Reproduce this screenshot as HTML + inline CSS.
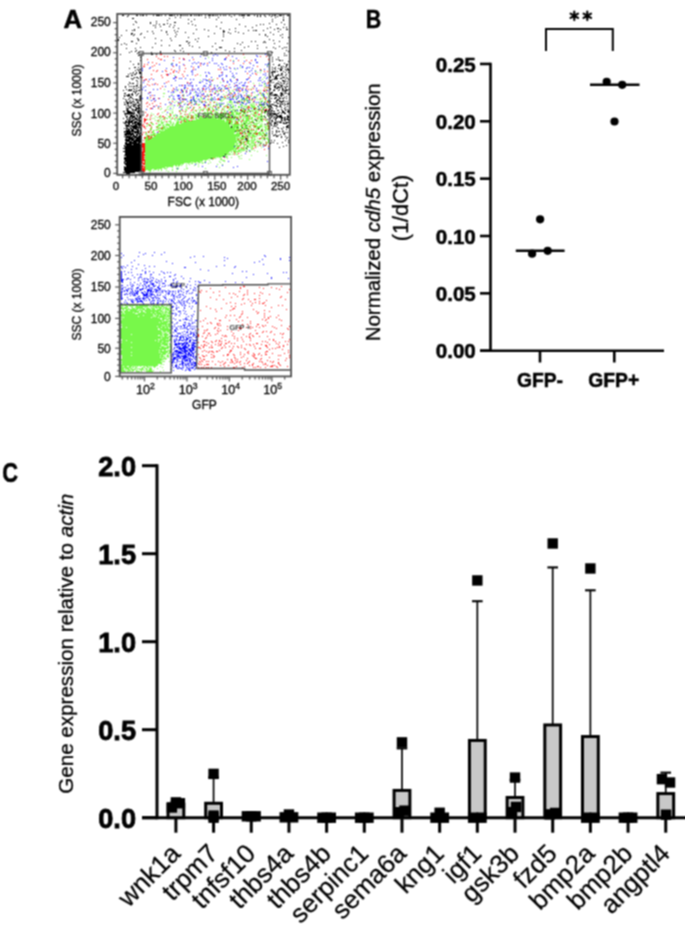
<!DOCTYPE html>
<html><head><meta charset="utf-8"><style>
html,body{margin:0;padding:0;background:#fff;}
body{width:685px;height:929px;overflow:hidden;}
svg{display:block;font-family:"Liberation Sans",sans-serif;}
</style></head><body>
<svg width="685" height="929" viewBox="0 0 685 929"><defs><filter id="soft" x="0" y="0" width="685" height="929" filterUnits="userSpaceOnUse" color-interpolation-filters="sRGB"><feConvolveMatrix order="3" kernelMatrix="1 2 1 2 4 2 1 2 1" divisor="16" edgeMode="duplicate"/></filter></defs>
<g filter="url(#soft)">
<rect x="0" y="0" width="685" height="929" fill="#fff"/>
<text x="63.6" y="27.6" font-size="26" font-weight="bold" text-anchor="start" fill="#000" textLength="18.6" lengthAdjust="spacingAndGlyphs" stroke="#000" stroke-width="0.5">A</text>
<g>
<path d="M208 57.5h1M244 57.5h1M233 60.5h1M171 63.5h1M268 64.5h1M267 65.5h1M240 67.5h1M235 69.5h1M255 70.5h1M261 70.5h1M257 72.5h1M260 72.5h1M174 75.5h1M200 75.5h1M233 77.5h1M264 77.5h1M213 79.5h1M262 79.5h1M200 80.5h1M208 80.5h1M220 82.5h1M253 83.5h1M259 83.5h1M264 83.5h1M211 84.5h1M264 84.5h1M217 86.5h1M228 86.5h1M264 86.5h2M243 87.5h1M252 87.5h1M267 87.5h1M224 88.5h1M236 88.5h1M164 89.5h1M178 89.5h1M184 89.5h1M221 89.5h1M250 89.5h1M266 89.5h1M218 90.5h2M229 90.5h1M232 90.5h1M260 90.5h1M265 90.5h1M175 91.5h1M183 91.5h1M202 91.5h1M209 91.5h1M215 91.5h1M233 91.5h1M237 91.5h1M245 91.5h1M194 92.5h1M215 92.5h1M226 92.5h1M230 92.5h1M243 92.5h1M254 92.5h1M259 92.5h2M163 93.5h2M218 93.5h1M230 93.5h1M263 93.5h1M267 93.5h1M172 94.5h1M183 94.5h1M207 94.5h1M223 94.5h1M261 94.5h1M264 94.5h1M267 94.5h1M195 95.5h1M209 95.5h1M225 95.5h1M233 95.5h1M240 95.5h1M247 95.5h3M256 95.5h2M261 95.5h2M163 96.5h1M183 96.5h1M206 96.5h1M227 96.5h1M238 96.5h1M250 96.5h1M254 96.5h1M263 96.5h1M268 96.5h1M169 97.5h1M190 97.5h1M201 97.5h1M211 97.5h1M221 97.5h1M223 97.5h1M228 97.5h1M232 97.5h2M235 97.5h1M247 97.5h1M253 97.5h1M256 97.5h1M263 97.5h1M184 98.5h1M196 98.5h1M201 98.5h1M211 98.5h1M224 98.5h2M236 98.5h1M242 98.5h1M244 98.5h1M246 98.5h2M262 98.5h1M264 98.5h1M267 98.5h1M149 99.5h1M172 99.5h1M194 99.5h1M199 99.5h1M202 99.5h1M207 99.5h1M211 99.5h1M221 99.5h1M223 99.5h1M241 99.5h1M245 99.5h2M251 99.5h1M256 99.5h1M258 99.5h1M260 99.5h1M193 100.5h1M200 100.5h1M205 100.5h1M212 100.5h1M220 100.5h1M222 100.5h1M230 100.5h1M239 100.5h1M241 100.5h1M243 100.5h2M246 100.5h1M248 100.5h1M251 100.5h1M260 100.5h1M262 100.5h1M265 100.5h1M267 100.5h1M176 101.5h1M183 101.5h1M189 101.5h1M191 101.5h1M195 101.5h1M201 101.5h1M209 101.5h1M214 101.5h1M221 101.5h1M229 101.5h3M237 101.5h1M241 101.5h1M247 101.5h1M261 101.5h2M265 101.5h1M268 101.5h1M170 102.5h1M174 102.5h1M181 102.5h1M195 102.5h1M202 102.5h1M206 102.5h1M213 102.5h1M216 102.5h1M227 102.5h1M229 102.5h2M232 102.5h1M235 102.5h1M243 102.5h1M247 102.5h1M250 102.5h1M253 102.5h1M259 102.5h2M265 102.5h1M268 102.5h1M179 103.5h2M185 103.5h1M191 103.5h1M196 103.5h1M217 103.5h1M231 103.5h1M237 103.5h2M242 103.5h1M252 103.5h1M254 103.5h1M193 104.5h1M198 104.5h2M209 104.5h2M218 104.5h1M220 104.5h3M227 104.5h1M230 104.5h1M232 104.5h1M241 104.5h1M250 104.5h2M253 104.5h1M260 104.5h1M263 104.5h1M266 104.5h1M172 105.5h1M177 105.5h2M187 105.5h1M198 105.5h1M206 105.5h1M213 105.5h2M216 105.5h2M219 105.5h1M226 105.5h1M233 105.5h1M241 105.5h2M246 105.5h1M249 105.5h1M251 105.5h2M254 105.5h1M259 105.5h3M268 105.5h1M168 106.5h1M170 106.5h1M206 106.5h1M210 106.5h1M225 106.5h2M228 106.5h1M230 106.5h1M232 106.5h2M238 106.5h2M241 106.5h1M243 106.5h3M247 106.5h1M251 106.5h4M257 106.5h1M261 106.5h2M265 106.5h1M158 107.5h1M167 107.5h1M173 107.5h1M181 107.5h1M186 107.5h2M189 107.5h1M194 107.5h1M200 107.5h1M208 107.5h1M210 107.5h1M212 107.5h1M217 107.5h1M219 107.5h1M223 107.5h1M230 107.5h1M232 107.5h2M235 107.5h1M238 107.5h2M246 107.5h2M250 107.5h1M252 107.5h4M258 107.5h1M263 107.5h1M265 107.5h1M268 107.5h1M161 108.5h1M182 108.5h1M193 108.5h1M203 108.5h2M209 108.5h1M212 108.5h1M216 108.5h1M218 108.5h1M222 108.5h1M224 108.5h1M227 108.5h1M229 108.5h1M241 108.5h1M245 108.5h1M253 108.5h1M256 108.5h1M262 108.5h2M266 108.5h1M160 109.5h1M166 109.5h1M168 109.5h1M172 109.5h1M185 109.5h2M193 109.5h1M198 109.5h1M200 109.5h2M203 109.5h1M206 109.5h3M212 109.5h2M215 109.5h1M217 109.5h1M223 109.5h1M229 109.5h2M232 109.5h3M236 109.5h2M240 109.5h1M243 109.5h2M249 109.5h1M253 109.5h1M257 109.5h1M259 109.5h3M170 110.5h1M179 110.5h2M186 110.5h1M196 110.5h1M200 110.5h1M203 110.5h1M207 110.5h1M210 110.5h1M214 110.5h1M218 110.5h1M221 110.5h1M224 110.5h1M228 110.5h1M231 110.5h1M233 110.5h1M242 110.5h3M247 110.5h1M249 110.5h1M251 110.5h2M255 110.5h2M262 110.5h1M164 111.5h1M172 111.5h1M180 111.5h1M183 111.5h1M193 111.5h1M196 111.5h1M199 111.5h1M207 111.5h1M210 111.5h2M215 111.5h2M221 111.5h1M224 111.5h1M226 111.5h1M230 111.5h1M232 111.5h1M234 111.5h2M237 111.5h1M241 111.5h1M243 111.5h1M245 111.5h1M247 111.5h3M252 111.5h2M255 111.5h1M257 111.5h2M261 111.5h2M264 111.5h1M266 111.5h1M162 112.5h1M172 112.5h1M185 112.5h1M190 112.5h1M192 112.5h2M199 112.5h1M204 112.5h2M207 112.5h2M210 112.5h2M214 112.5h1M216 112.5h2M223 112.5h1M225 112.5h1M231 112.5h3M235 112.5h3M239 112.5h3M243 112.5h1M246 112.5h1M254 112.5h1M256 112.5h2M261 112.5h1M265 112.5h1M151 113.5h1M169 113.5h2M172 113.5h1M181 113.5h1M189 113.5h1M194 113.5h1M197 113.5h1M202 113.5h3M206 113.5h2M209 113.5h1M211 113.5h2M215 113.5h1M218 113.5h1M220 113.5h2M224 113.5h1M226 113.5h3M231 113.5h3M236 113.5h4M243 113.5h3M251 113.5h1M253 113.5h2M257 113.5h1M261 113.5h1M265 113.5h1M153 114.5h1M166 114.5h1M175 114.5h1M184 114.5h1M189 114.5h1M195 114.5h2M205 114.5h1M207 114.5h2M213 114.5h2M216 114.5h2M219 114.5h5M225 114.5h1M227 114.5h2M230 114.5h4M235 114.5h5M242 114.5h2M245 114.5h1M247 114.5h1M250 114.5h1M252 114.5h1M254 114.5h1M256 114.5h1M260 114.5h2M150 115.5h1M160 115.5h1M173 115.5h2M177 115.5h1M180 115.5h1M188 115.5h1M190 115.5h1M193 115.5h1M195 115.5h3M199 115.5h1M203 115.5h4M208 115.5h3M212 115.5h2M215 115.5h1M217 115.5h7M225 115.5h1M227 115.5h4M232 115.5h3M239 115.5h1M241 115.5h2M245 115.5h1M248 115.5h2M254 115.5h3M261 115.5h1M264 115.5h1M155 116.5h1M160 116.5h1M168 116.5h3M174 116.5h1M177 116.5h1M180 116.5h2M185 116.5h3M191 116.5h1M193 116.5h1M196 116.5h3M200 116.5h3M206 116.5h1M208 116.5h3M212 116.5h4M218 116.5h7M227 116.5h1M229 116.5h2M234 116.5h3M238 116.5h1M242 116.5h1M244 116.5h5M250 116.5h1M254 116.5h2M257 116.5h4M262 116.5h2M268 116.5h1M157 117.5h1M159 117.5h1M161 117.5h1M165 117.5h1M169 117.5h1M172 117.5h1M179 117.5h3M183 117.5h2M188 117.5h1M190 117.5h1M192 117.5h2M195 117.5h2M198 117.5h4M204 117.5h4M210 117.5h1M212 117.5h2M215 117.5h7M223 117.5h1M225 117.5h1M227 117.5h1M230 117.5h1M233 117.5h1M235 117.5h1M237 117.5h2M242 117.5h1M244 117.5h1M246 117.5h3M251 117.5h2M255 117.5h1M257 117.5h1M259 117.5h1M261 117.5h1M152 118.5h1M154 118.5h1M160 118.5h1M163 118.5h2M166 118.5h2M170 118.5h1M174 118.5h2M177 118.5h1M179 118.5h1M181 118.5h1M183 118.5h4M188 118.5h1M190 118.5h1M192 118.5h1M195 118.5h2M199 118.5h18M218 118.5h3M223 118.5h9M233 118.5h2M236 118.5h1M238 118.5h1M240 118.5h1M243 118.5h1M245 118.5h4M250 118.5h3M258 118.5h6M265 118.5h1M147 119.5h1M149 119.5h1M159 119.5h1M162 119.5h1M171 119.5h1M174 119.5h1M177 119.5h2M180 119.5h2M183 119.5h5M196 119.5h26M223 119.5h1M226 119.5h1M228 119.5h7M240 119.5h1M242 119.5h2M246 119.5h3M251 119.5h1M254 119.5h1M257 119.5h1M260 119.5h1M155 120.5h1M157 120.5h1M161 120.5h1M170 120.5h1M175 120.5h1M177 120.5h1M181 120.5h3M186 120.5h3M192 120.5h33M226 120.5h3M230 120.5h2M235 120.5h1M238 120.5h2M243 120.5h1M245 120.5h5M252 120.5h2M255 120.5h1M258 120.5h1M260 120.5h3M265 120.5h2M157 121.5h1M159 121.5h1M161 121.5h1M164 121.5h1M168 121.5h3M177 121.5h3M183 121.5h2M186 121.5h39M226 121.5h4M231 121.5h2M234 121.5h2M237 121.5h2M240 121.5h1M243 121.5h5M249 121.5h1M251 121.5h2M256 121.5h2M259 121.5h1M261 121.5h2M267 121.5h1M150 122.5h1M158 122.5h1M161 122.5h3M166 122.5h1M170 122.5h2M173 122.5h1M176 122.5h3M181 122.5h1M183 122.5h46M230 122.5h3M235 122.5h2M241 122.5h1M243 122.5h1M245 122.5h2M249 122.5h2M252 122.5h1M259 122.5h1M267 122.5h1M151 123.5h2M161 123.5h2M167 123.5h1M170 123.5h1M173 123.5h1M176 123.5h3M181 123.5h48M230 123.5h2M234 123.5h1M236 123.5h1M238 123.5h1M241 123.5h1M243 123.5h1M245 123.5h5M253 123.5h6M261 123.5h1M268 123.5h1M148 124.5h2M152 124.5h2M158 124.5h3M163 124.5h1M165 124.5h5M171 124.5h3M175 124.5h55M231 124.5h9M241 124.5h5M248 124.5h1M250 124.5h2M254 124.5h1M256 124.5h1M260 124.5h1M262 124.5h1M264 124.5h1M147 125.5h1M158 125.5h3M162 125.5h2M166 125.5h4M172 125.5h1M175 125.5h55M231 125.5h1M233 125.5h6M240 125.5h2M244 125.5h2M247 125.5h1M250 125.5h1M252 125.5h1M254 125.5h3M260 125.5h2M267 125.5h2M146 126.5h1M151 126.5h1M156 126.5h3M163 126.5h3M169 126.5h61M232 126.5h7M240 126.5h3M244 126.5h3M248 126.5h1M250 126.5h1M256 126.5h7M264 126.5h4M156 127.5h1M159 127.5h1M161 127.5h1M163 127.5h2M166 127.5h2M169 127.5h62M232 127.5h5M238 127.5h1M241 127.5h1M244 127.5h4M250 127.5h1M253 127.5h3M257 127.5h4M265 127.5h1M268 127.5h1M150 128.5h2M158 128.5h3M162 128.5h4M167 128.5h68M236 128.5h4M241 128.5h5M247 128.5h3M251 128.5h1M256 128.5h2M259 128.5h1M262 128.5h1M265 128.5h3M150 129.5h2M156 129.5h3M161 129.5h3M165 129.5h74M241 129.5h1M243 129.5h1M247 129.5h1M256 129.5h1M261 129.5h2M265 129.5h1M267 129.5h2M153 130.5h2M156 130.5h1M159 130.5h2M162 130.5h1M164 130.5h73M238 130.5h1M240 130.5h3M245 130.5h2M248 130.5h7M256 130.5h1M264 130.5h2M267 130.5h1M149 131.5h1M152 131.5h2M159 131.5h76M236 131.5h4M241 131.5h1M249 131.5h1M251 131.5h1M255 131.5h2M260 131.5h1M262 131.5h1M265 131.5h1M146 132.5h1M149 132.5h1M152 132.5h2M160 132.5h75M237 132.5h1M239 132.5h1M242 132.5h4M249 132.5h2M252 132.5h1M254 132.5h3M258 132.5h3M262 132.5h2M266 132.5h1M146 133.5h1M153 133.5h3M157 133.5h77M236 133.5h4M244 133.5h1M246 133.5h4M251 133.5h1M253 133.5h1M255 133.5h1M258 133.5h3M262 133.5h3M268 133.5h1M145 134.5h2M150 134.5h5M156 134.5h85M244 134.5h1M248 134.5h2M252 134.5h2M255 134.5h1M257 134.5h1M259 134.5h3M265 134.5h2M148 135.5h2M151 135.5h3M155 135.5h85M241 135.5h1M243 135.5h1M245 135.5h1M247 135.5h8M257 135.5h1M259 135.5h1M261 135.5h4M266 135.5h2M146 136.5h2M150 136.5h1M154 136.5h86M243 136.5h3M249 136.5h1M252 136.5h5M265 136.5h1M146 137.5h2M150 137.5h1M152 137.5h84M237 137.5h1M240 137.5h5M246 137.5h1M248 137.5h1M250 137.5h1M252 137.5h1M254 137.5h1M261 137.5h1M263 137.5h1M267 137.5h1M145 138.5h4M151 138.5h93M245 138.5h1M248 138.5h1M252 138.5h1M254 138.5h1M257 138.5h1M261 138.5h7M145 139.5h3M149 139.5h87M237 139.5h1M241 139.5h1M243 139.5h2M247 139.5h1M251 139.5h2M254 139.5h2M259 139.5h1M267 139.5h2M145 140.5h95M241 140.5h1M246 140.5h1M248 140.5h2M251 140.5h1M253 140.5h2M257 140.5h1M262 140.5h1M268 140.5h1M145 141.5h92M238 141.5h3M242 141.5h4M247 141.5h3M251 141.5h3M256 141.5h5M265 141.5h1M268 141.5h1M145 142.5h92M239 142.5h1M243 142.5h1M247 142.5h2M251 142.5h1M253 142.5h1M260 142.5h1M262 142.5h1M267 142.5h2M145 143.5h90M236 143.5h3M240 143.5h4M246 143.5h4M251 143.5h4M261 143.5h1M265 143.5h2M145 144.5h90M236 144.5h1M241 144.5h1M243 144.5h2M249 144.5h2M254 144.5h2M257 144.5h1M259 144.5h1M145 145.5h96M244 145.5h1M246 145.5h2M249 145.5h1M251 145.5h4M259 145.5h1M262 145.5h1M145 146.5h89M235 146.5h1M237 146.5h3M243 146.5h2M248 146.5h1M250 146.5h1M252 146.5h1M255 146.5h1M257 146.5h1M145 147.5h90M236 147.5h2M243 147.5h1M245 147.5h3M249 147.5h1M251 147.5h2M261 147.5h1M145 148.5h92M239 148.5h1M241 148.5h2M244 148.5h1M251 148.5h1M145 149.5h89M235 149.5h2M238 149.5h1M240 149.5h3M244 149.5h1M246 149.5h2M251 149.5h2M145 150.5h87M233 150.5h3M238 150.5h3M242 150.5h3M254 150.5h1M145 151.5h85M231 151.5h1M233 151.5h7M241 151.5h1M249 151.5h2M257 151.5h1M145 152.5h84M231 152.5h1M235 152.5h1M237 152.5h1M240 152.5h1M145 153.5h83M229 153.5h1M233 153.5h1M235 153.5h1M145 154.5h80M226 154.5h5M232 154.5h1M236 154.5h2M145 155.5h81M241 155.5h1M251 155.5h1M266 155.5h1M145 156.5h78M225 156.5h3M238 156.5h2M145 157.5h71M217 157.5h1M219 157.5h2M226 157.5h1M231 157.5h1M145 158.5h66M212 158.5h1M215 158.5h1M221 158.5h1M227 158.5h1M239 158.5h1M241 158.5h1M145 159.5h63M212 159.5h1M220 159.5h2M249 159.5h1M145 160.5h58M205 160.5h1M209 160.5h1M222 160.5h3M145 161.5h55M201 161.5h1M205 161.5h1M219 161.5h1M224 161.5h1M145 162.5h46M192 162.5h1M194 162.5h2M198 162.5h3M202 162.5h1M204 162.5h1M210 162.5h1M220 162.5h1M145 163.5h39M188 163.5h1M191 163.5h2M196 163.5h1M202 163.5h1M208 163.5h1M145 164.5h36M182 164.5h1M186 164.5h1M189 164.5h1M198 164.5h1M217 164.5h1M222 164.5h1M145 165.5h29M175 165.5h2M178 165.5h2M181 165.5h1M194 165.5h1M145 166.5h28M176 166.5h1M178 166.5h1M186 166.5h1M198 166.5h1M145 167.5h20M167 167.5h1M172 167.5h1M219 167.5h1M145 168.5h17M164 168.5h3M176 168.5h1M178 168.5h1M186 168.5h2M205 168.5h1M145 169.5h7M154 169.5h3M158 169.5h1M161 169.5h1M172 169.5h1M177 169.5h1M184 169.5h1M145 170.5h1M148 170.5h3M153 170.5h1M158 170.5h1M161 170.5h1M166 170.5h1M172 170.5h1M150 171.5h1M168 171.5h1M176 171.5h1M149 172.5h1M121 305.5h2M124 305.5h3M128 305.5h10M139 305.5h10M151 305.5h1M153 305.5h2M156 305.5h3M161 305.5h2M164 305.5h1M167 305.5h1M169 305.5h1M122 306.5h1M126 306.5h2M130 306.5h1M132 306.5h1M136 306.5h12M149 306.5h2M152 306.5h5M158 306.5h2M161 306.5h3M166 306.5h1M168 306.5h1M170 306.5h1M121 307.5h2M124 307.5h4M131 307.5h2M135 307.5h8M145 307.5h1M147 307.5h1M151 307.5h1M153 307.5h1M155 307.5h7M163 307.5h4M121 308.5h6M128 308.5h1M132 308.5h3M136 308.5h9M146 308.5h4M151 308.5h4M156 308.5h1M159 308.5h3M163 308.5h1M165 308.5h6M122 309.5h2M126 309.5h12M140 309.5h1M142 309.5h3M146 309.5h5M152 309.5h3M157 309.5h4M162 309.5h2M165 309.5h4M123 310.5h1M125 310.5h3M130 310.5h7M138 310.5h5M144 310.5h18M165 310.5h1M167 310.5h4M121 311.5h2M124 311.5h15M141 311.5h2M145 311.5h14M160 311.5h4M165 311.5h2M169 311.5h2M121 312.5h2M124 312.5h9M134 312.5h5M140 312.5h5M146 312.5h5M152 312.5h3M156 312.5h5M162 312.5h1M164 312.5h7M122 313.5h2M125 313.5h10M138 313.5h26M165 313.5h1M168 313.5h3M121 314.5h32M154 314.5h2M157 314.5h5M163 314.5h5M169 314.5h1M121 315.5h22M144 315.5h10M155 315.5h4M160 315.5h6M167 315.5h3M121 316.5h17M139 316.5h14M154 316.5h1M156 316.5h15M122 317.5h1M124 317.5h27M152 317.5h6M159 317.5h6M166 317.5h1M168 317.5h1M170 317.5h1M121 318.5h39M162 318.5h5M168 318.5h3M122 319.5h39M162 319.5h3M166 319.5h3M170 319.5h1M121 320.5h43M166 320.5h1M168 320.5h1M170 320.5h1M121 321.5h41M163 321.5h8M121 322.5h38M160 322.5h8M170 322.5h1M121 323.5h46M168 323.5h3M122 324.5h48M121 325.5h41M163 325.5h1M165 325.5h2M168 325.5h3M122 326.5h35M158 326.5h12M122 327.5h4M127 327.5h34M162 327.5h3M166 327.5h2M169 327.5h2M121 328.5h37M159 328.5h10M121 329.5h37M160 329.5h11M121 330.5h40M162 330.5h9M121 331.5h41M163 331.5h3M167 331.5h3M121 332.5h41M163 332.5h1M165 332.5h1M167 332.5h1M169 332.5h2M121 333.5h42M164 333.5h3M169 333.5h2M121 334.5h10M132 334.5h30M163 334.5h6M121 335.5h37M160 335.5h3M164 335.5h4M170 335.5h1M121 336.5h40M162 336.5h1M164 336.5h3M168 336.5h3M121 337.5h48M170 337.5h1M121 338.5h40M162 338.5h7M170 338.5h1M122 339.5h36M160 339.5h6M167 339.5h1M169 339.5h2M122 340.5h4M127 340.5h28M156 340.5h15M121 341.5h37M159 341.5h3M163 341.5h6M122 342.5h9M132 342.5h34M167 342.5h1M121 343.5h40M162 343.5h6M169 343.5h1M121 344.5h47M169 344.5h2M121 345.5h40M164 345.5h4M170 345.5h1M121 346.5h43M167 346.5h4M121 347.5h10M132 347.5h28M161 347.5h8M170 347.5h1M121 348.5h48M170 348.5h1M122 349.5h44M170 349.5h1M121 350.5h38M160 350.5h2M164 350.5h2M167 350.5h4M121 351.5h47M169 351.5h2M121 352.5h10M132 352.5h27M160 352.5h8M169 352.5h2M121 353.5h40M162 353.5h4M168 353.5h2M121 354.5h45M167 354.5h1M122 355.5h9M132 355.5h28M161 355.5h2M167 355.5h2M170 355.5h1M122 356.5h43M166 356.5h3M122 357.5h38M161 357.5h2M164 357.5h1M168 357.5h1M122 358.5h40M163 358.5h4M121 359.5h43M165 359.5h1M121 360.5h41M122 361.5h39M162 361.5h3M169 361.5h1M121 362.5h41M122 363.5h40M121 364.5h37M161 364.5h1M163 364.5h1M121 365.5h37M121 366.5h2M124 366.5h3M129 366.5h3M133 366.5h1M135 366.5h1M137 366.5h1M140 366.5h1M144 366.5h1M146 366.5h2M149 366.5h1M151 366.5h1M153 366.5h3M160 366.5h1M121 367.5h10M132 367.5h2M135 367.5h2M142 367.5h3M147 367.5h2M150 367.5h1M154 367.5h1M162 367.5h1M121 368.5h3M125 368.5h4M130 368.5h2M135 368.5h1M137 368.5h1M139 368.5h1M141 368.5h2M145 368.5h2M149 368.5h3M157 368.5h1M121 369.5h3M125 369.5h1M127 369.5h3M131 369.5h5M137 369.5h1M139 369.5h5M146 369.5h2M149 369.5h3M170 369.5h1M121 370.5h4M126 370.5h1M128 370.5h3M132 370.5h2M136 370.5h1M141 370.5h1M144 370.5h1M146 370.5h1M148 370.5h4M153 370.5h1M163 370.5h1M121 371.5h5M127 371.5h2M130 371.5h1M132 371.5h1M136 371.5h4M141 371.5h1M146 371.5h7M160 371.5h1" stroke="#78f84a" stroke-width="1" fill="none"/>
<path d="M122 15.5h2M128 15.5h1M136 15.5h2M140 15.5h1M142 15.5h2M146 15.5h1M153 15.5h1M156 15.5h4M161 15.5h1M165 15.5h1M169 15.5h4M174 15.5h1M177 15.5h1M180 15.5h2M183 15.5h1M185 15.5h1M187 15.5h1M190 15.5h2M194 15.5h1M196 15.5h1M198 15.5h2M201 15.5h1M205 15.5h1M208 15.5h3M212 15.5h2M215 15.5h1M217 15.5h1M220 15.5h1M223 15.5h1M225 15.5h1M229 15.5h1M234 15.5h1M239 15.5h1M241 15.5h4M247 15.5h3M254 15.5h1M257 15.5h1M260 15.5h1M264 15.5h1M269 15.5h1M272 15.5h1M274 15.5h2M279 15.5h3M283 15.5h1M287 15.5h2M127 16.5h1M231 16.5h1M257 16.5h1M260 16.5h1M265 16.5h1M271 16.5h1M277 16.5h1M175 17.5h1M180 17.5h1M205 17.5h1M209 17.5h1M218 17.5h1M243 17.5h1M275 17.5h1M283 17.5h1M132 18.5h2M169 18.5h1M188 19.5h1M194 19.5h1M216 19.5h1M236 19.5h1M272 19.5h1M283 19.5h1M167 20.5h1M283 20.5h1M135 21.5h1M156 21.5h1M191 21.5h1M272 21.5h1M136 22.5h1M150 22.5h1M174 22.5h2M221 22.5h1M281 22.5h1M150 23.5h1M156 23.5h1M167 23.5h1M188 23.5h1M269 23.5h1M133 24.5h1M159 24.5h1M163 24.5h2M170 24.5h1M192 24.5h1M239 24.5h1M260 24.5h1M263 24.5h1M276 24.5h1M284 24.5h1M153 25.5h1M155 25.5h1M174 25.5h1M195 25.5h1M256 25.5h1M160 26.5h1M169 26.5h1M216 26.5h1M245 26.5h1M138 27.5h1M155 27.5h1M173 27.5h1M252 27.5h1M270 27.5h1M283 27.5h1M286 27.5h1M178 28.5h1M220 28.5h1M235 28.5h1M267 28.5h1M277 28.5h2M134 29.5h1M196 29.5h1M204 29.5h1M229 29.5h1M274 29.5h1M280 29.5h1M286 29.5h2M126 30.5h1M132 30.5h1M134 30.5h1M161 30.5h1M174 30.5h1M208 30.5h1M223 30.5h1M248 30.5h1M253 30.5h1M255 30.5h2M263 30.5h1M147 31.5h1M152 31.5h1M166 31.5h1M177 31.5h1M223 31.5h2M235 31.5h1M278 31.5h1M166 32.5h1M175 32.5h1M185 32.5h1M223 32.5h1M228 32.5h1M238 32.5h1M270 32.5h1M131 33.5h2M141 33.5h1M153 33.5h1M193 33.5h1M214 33.5h1M230 33.5h1M243 33.5h1M131 34.5h1M134 34.5h1M140 34.5h1M167 34.5h1M176 34.5h1M223 34.5h1M259 34.5h1M265 34.5h1M273 34.5h1M282 34.5h1M121 35.5h1M133 35.5h1M265 35.5h1M280 35.5h1M175 36.5h1M208 36.5h1M223 36.5h1M267 36.5h1M119 37.5h1M144 37.5h1M188 37.5h1M282 37.5h1M288 37.5h1M137 38.5h1M155 38.5h1M170 38.5h1M198 38.5h1M118 39.5h1M138 39.5h1M195 39.5h1M269 39.5h1M118 40.5h1M138 40.5h1M161 40.5h1M171 40.5h1M222 40.5h1M273 40.5h1M131 41.5h2M186 41.5h2M197 41.5h1M251 41.5h1M255 41.5h1M264 41.5h1M279 41.5h1M189 42.5h1M242 42.5h1M263 42.5h1M265 42.5h1M124 43.5h1M136 43.5h1M155 43.5h1M188 43.5h1M215 43.5h1M237 43.5h1M274 43.5h1M287 43.5h1M121 44.5h1M126 44.5h1M240 44.5h1M161 45.5h1M169 45.5h1M179 45.5h2M189 45.5h1M257 45.5h1M192 46.5h1M212 46.5h1M248 46.5h1M279 46.5h1M140 47.5h1M152 47.5h1M199 47.5h1M219 47.5h3M244 47.5h1M266 47.5h1M273 47.5h1M284 47.5h1M286 47.5h1M126 48.5h1M135 48.5h1M182 48.5h1M234 48.5h1M257 48.5h1M275 48.5h1M282 48.5h1M216 49.5h1M136 50.5h1M174 50.5h1M180 50.5h1M225 50.5h1M241 50.5h1M286 50.5h1M131 51.5h1M135 51.5h1M160 51.5h1M175 51.5h1M183 51.5h1M229 51.5h1M234 51.5h1M288 51.5h1M129 52.5h1M138 52.5h1M151 52.5h1M160 52.5h1M211 52.5h1M272 52.5h1M137 53.5h1M184 53.5h1M284 53.5h1M120 54.5h1M139 54.5h1M151 54.5h2M156 54.5h1M201 54.5h1M267 54.5h1M138 55.5h1M284 55.5h1M286 55.5h1M140 57.5h1M272 57.5h1M278 57.5h1M272 59.5h1M276 59.5h1M278 59.5h1M140 60.5h1M279 60.5h2M282 60.5h1M130 61.5h1M272 61.5h1M288 61.5h1M138 63.5h1M284 63.5h1M133 64.5h1M138 64.5h1M273 64.5h1M279 64.5h1M286 64.5h2M278 65.5h2M286 65.5h1M281 66.5h1M283 66.5h1M286 66.5h1M134 67.5h2M138 67.5h1M272 67.5h1M275 67.5h1M281 67.5h1M285 67.5h1M129 68.5h1M274 68.5h1M278 68.5h1M280 68.5h1M282 68.5h1M287 68.5h1M137 69.5h1M139 69.5h2M272 69.5h1M275 69.5h1M280 69.5h2M285 69.5h1M287 69.5h2M135 70.5h1M138 70.5h1M280 70.5h2M286 70.5h1M288 70.5h1M139 71.5h1M272 71.5h4M277 71.5h1M283 71.5h1M133 72.5h1M136 72.5h1M139 72.5h2M271 72.5h2M274 72.5h1M285 72.5h1M288 72.5h1M130 73.5h1M132 73.5h1M136 73.5h1M139 73.5h2M272 73.5h1M281 73.5h2M128 74.5h1M134 74.5h2M272 74.5h1M278 74.5h1M281 74.5h1M286 74.5h1M131 75.5h2M272 75.5h1M276 75.5h3M280 75.5h1M282 75.5h1M285 75.5h1M126 76.5h3M140 76.5h1M270 76.5h1M273 76.5h1M275 76.5h2M134 77.5h1M136 77.5h2M140 77.5h1M270 77.5h1M275 77.5h2M282 77.5h3M286 77.5h1M131 78.5h1M133 78.5h1M138 78.5h1M274 78.5h4M280 78.5h2M287 78.5h1M132 79.5h1M272 79.5h1M274 79.5h1M276 79.5h1M285 79.5h1M288 79.5h1M136 80.5h1M270 80.5h2M282 80.5h2M137 81.5h1M270 81.5h1M278 81.5h1M283 81.5h3M287 81.5h1M129 82.5h1M271 82.5h1M273 82.5h1M280 82.5h1M130 83.5h1M132 83.5h2M137 83.5h1M276 83.5h3M281 83.5h1M283 83.5h2M287 83.5h1M128 84.5h1M275 84.5h1M279 84.5h1M286 84.5h1M136 85.5h2M140 85.5h1M270 85.5h1M274 85.5h1M276 85.5h1M280 85.5h3M125 86.5h1M129 86.5h1M131 86.5h1M133 86.5h2M136 86.5h1M274 86.5h2M278 86.5h1M281 86.5h1M284 86.5h1M286 86.5h2M125 87.5h1M138 87.5h1M140 87.5h1M274 87.5h2M277 87.5h4M282 87.5h1M285 87.5h1M133 88.5h1M136 88.5h1M270 88.5h1M276 88.5h2M282 88.5h1M285 88.5h1M126 89.5h1M129 89.5h1M131 89.5h1M134 89.5h1M140 89.5h1M270 89.5h1M274 89.5h1M279 89.5h1M282 89.5h2M286 89.5h1M288 89.5h1M123 90.5h1M128 90.5h4M136 90.5h1M138 90.5h2M273 90.5h2M278 90.5h1M282 90.5h1M284 90.5h4M133 91.5h2M136 91.5h1M283 91.5h1M285 91.5h1M135 92.5h1M271 92.5h2M281 92.5h1M285 92.5h1M124 93.5h2M132 93.5h1M135 93.5h1M138 93.5h1M270 93.5h2M280 93.5h3M284 93.5h1M286 93.5h1M288 93.5h1M128 94.5h2M131 94.5h2M137 94.5h1M270 94.5h1M272 94.5h1M274 94.5h3M281 94.5h2M288 94.5h1M124 95.5h1M126 95.5h4M132 95.5h1M136 95.5h1M140 95.5h1M271 95.5h1M273 95.5h5M280 95.5h2M283 95.5h1M124 96.5h1M128 96.5h1M130 96.5h1M139 96.5h2M278 96.5h1M281 96.5h1M286 96.5h1M130 97.5h2M140 97.5h1M275 97.5h2M279 97.5h1M284 97.5h1M123 98.5h1M129 98.5h1M132 98.5h1M139 98.5h2M271 98.5h1M274 98.5h2M279 98.5h2M282 98.5h2M286 98.5h1M125 99.5h1M128 99.5h1M133 99.5h1M135 99.5h3M140 99.5h1M277 99.5h2M126 100.5h1M130 100.5h1M136 100.5h1M138 100.5h3M276 100.5h2M279 100.5h1M283 100.5h1M126 101.5h1M129 101.5h1M132 101.5h2M137 101.5h1M270 101.5h1M276 101.5h1M279 101.5h5M285 101.5h1M287 101.5h1M124 102.5h1M126 102.5h3M130 102.5h2M134 102.5h1M137 102.5h2M264 102.5h1M274 102.5h1M276 102.5h1M281 102.5h1M127 103.5h2M130 103.5h1M132 103.5h1M136 103.5h1M138 103.5h1M277 103.5h2M280 103.5h1M282 103.5h1M284 103.5h1M287 103.5h2M124 104.5h2M127 104.5h1M133 104.5h3M139 104.5h1M259 104.5h1M261 104.5h1M264 104.5h1M271 104.5h3M280 104.5h1M282 104.5h1M285 104.5h1M287 104.5h1M128 105.5h1M131 105.5h1M133 105.5h1M135 105.5h1M137 105.5h3M267 105.5h1M270 105.5h1M274 105.5h3M280 105.5h1M284 105.5h1M126 106.5h1M128 106.5h1M130 106.5h1M133 106.5h2M138 106.5h1M268 106.5h1M270 106.5h2M276 106.5h2M279 106.5h2M287 106.5h1M129 107.5h2M135 107.5h2M138 107.5h2M264 107.5h1M271 107.5h1M281 107.5h1M285 107.5h1M126 108.5h3M131 108.5h1M136 108.5h4M243 108.5h1M270 108.5h1M272 108.5h1M276 108.5h1M284 108.5h1M127 109.5h1M132 109.5h2M135 109.5h2M138 109.5h1M140 109.5h1M248 109.5h1M254 109.5h1M258 109.5h1M263 109.5h1M270 109.5h1M281 109.5h1M285 109.5h1M287 109.5h1M126 110.5h3M132 110.5h1M134 110.5h3M138 110.5h2M235 110.5h1M240 110.5h1M265 110.5h2M268 110.5h1M271 110.5h2M277 110.5h2M282 110.5h1M285 110.5h1M288 110.5h1M123 111.5h2M127 111.5h4M133 111.5h1M137 111.5h2M140 111.5h1M242 111.5h1M250 111.5h1M265 111.5h1M268 111.5h1M271 111.5h1M273 111.5h2M282 111.5h2M287 111.5h2M127 112.5h6M134 112.5h1M137 112.5h3M244 112.5h1M264 112.5h1M271 112.5h1M279 112.5h1M282 112.5h3M288 112.5h1M124 113.5h11M138 113.5h2M223 113.5h1M268 113.5h1M270 113.5h6M277 113.5h2M281 113.5h1M284 113.5h2M125 114.5h1M127 114.5h1M129 114.5h1M131 114.5h1M133 114.5h1M136 114.5h1M139 114.5h1M270 114.5h1M273 114.5h4M125 115.5h1M130 115.5h3M134 115.5h1M136 115.5h2M139 115.5h2M272 115.5h1M276 115.5h2M279 115.5h3M287 115.5h1M126 116.5h2M130 116.5h5M137 116.5h1M139 116.5h2M232 116.5h1M261 116.5h1M264 116.5h1M271 116.5h1M273 116.5h1M275 116.5h1M277 116.5h5M287 116.5h2M126 117.5h1M129 117.5h2M132 117.5h4M137 117.5h1M139 117.5h2M232 117.5h1M234 117.5h1M265 117.5h1M271 117.5h1M274 117.5h1M276 117.5h2M279 117.5h4M284 117.5h2M287 117.5h2M123 118.5h1M127 118.5h1M129 118.5h1M131 118.5h2M135 118.5h2M138 118.5h2M221 118.5h1M270 118.5h1M273 118.5h1M275 118.5h2M281 118.5h2M284 118.5h1M287 118.5h1M127 119.5h1M129 119.5h2M133 119.5h5M139 119.5h1M238 119.5h1M255 119.5h1M261 119.5h1M267 119.5h1M275 119.5h1M281 119.5h1M284 119.5h5M126 120.5h1M128 120.5h2M131 120.5h3M137 120.5h4M256 120.5h1M271 120.5h2M275 120.5h1M281 120.5h2M284 120.5h1M288 120.5h1M125 121.5h2M128 121.5h5M134 121.5h3M139 121.5h2M272 121.5h1M276 121.5h1M278 121.5h1M280 121.5h1M285 121.5h1M123 122.5h1M125 122.5h8M134 122.5h6M253 122.5h1M271 122.5h1M274 122.5h2M277 122.5h1M279 122.5h3M283 122.5h1M286 122.5h3M124 123.5h2M128 123.5h2M132 123.5h4M137 123.5h4M229 123.5h1M244 123.5h1M267 123.5h1M270 123.5h1M274 123.5h3M283 123.5h4M126 124.5h1M128 124.5h2M132 124.5h1M135 124.5h6M265 124.5h1M271 124.5h1M274 124.5h1M277 124.5h1M125 125.5h4M130 125.5h2M133 125.5h4M138 125.5h3M246 125.5h1M271 125.5h1M274 125.5h1M276 125.5h1M287 125.5h2M126 126.5h4M131 126.5h7M139 126.5h1M231 126.5h1M273 126.5h1M275 126.5h1M286 126.5h2M126 127.5h1M130 127.5h1M132 127.5h9M231 127.5h1M237 127.5h1M242 127.5h1M277 127.5h1M283 127.5h1M286 127.5h3M124 128.5h1M126 128.5h3M130 128.5h2M133 128.5h4M138 128.5h1M140 128.5h1M246 128.5h1M258 128.5h1M272 128.5h1M278 128.5h1M281 128.5h1M126 129.5h1M128 129.5h2M131 129.5h3M135 129.5h4M140 129.5h1M282 129.5h1M286 129.5h1M126 130.5h4M131 130.5h3M137 130.5h2M140 130.5h1M239 130.5h1M261 130.5h1M276 130.5h1M124 131.5h16M235 131.5h1M244 131.5h1M247 131.5h2M272 131.5h1M276 131.5h1M278 131.5h2M282 131.5h2M124 132.5h1M126 132.5h5M132 132.5h1M134 132.5h5M140 132.5h1M276 132.5h1M285 132.5h1M287 132.5h1M125 133.5h9M135 133.5h1M137 133.5h4M242 133.5h1M250 133.5h1M272 133.5h1M283 133.5h2M124 134.5h10M136 134.5h2M139 134.5h1M275 134.5h1M280 134.5h1M284 134.5h1M125 135.5h2M128 135.5h1M130 135.5h2M133 135.5h2M136 135.5h2M139 135.5h2M265 135.5h1M273 135.5h2M276 135.5h1M278 135.5h1M124 136.5h1M126 136.5h5M132 136.5h5M138 136.5h3M242 136.5h1M247 136.5h1M276 136.5h2M281 136.5h1M285 136.5h1M125 137.5h8M134 137.5h7M281 137.5h1M287 137.5h1M126 138.5h1M128 138.5h7M136 138.5h5M246 138.5h1M286 138.5h1M125 139.5h9M135 139.5h6M246 139.5h1M264 139.5h1M125 140.5h5M131 140.5h10M247 140.5h1M271 140.5h1M274 140.5h1M285 140.5h1M288 140.5h1M126 141.5h6M133 141.5h8M125 142.5h2M129 142.5h8M138 142.5h3M240 142.5h1M258 142.5h1M271 142.5h1M273 142.5h1M282 142.5h1M288 142.5h1M125 143.5h15M260 143.5h1M270 143.5h1M277 143.5h1M125 144.5h7M133 144.5h8M263 144.5h1M124 145.5h1M126 145.5h15M265 145.5h1M286 145.5h1M124 146.5h17M247 146.5h1M283 146.5h1M125 147.5h16M279 147.5h1M123 148.5h18M246 148.5h1M125 149.5h16M125 150.5h16M123 151.5h18M246 151.5h1M125 152.5h16M125 153.5h16M125 154.5h16M225 154.5h1M124 155.5h17M126 156.5h15M223 156.5h1M124 157.5h17M124 158.5h17M211 158.5h1M124 159.5h17M125 160.5h16M124 161.5h17M124 162.5h1M126 162.5h15M124 163.5h17M125 164.5h16M126 165.5h15M124 166.5h1M126 166.5h15M124 167.5h17M124 168.5h17M124 169.5h17M124 170.5h17M125 171.5h15M123 172.5h12M126 173.5h4" stroke="#000" stroke-width="1" fill="none"/>
<path d="M160 54.5h2M188 54.5h1M243 54.5h1M228 55.5h1M156 56.5h1M164 56.5h1M167 56.5h1M260 56.5h1M266 56.5h1M226 57.5h1M158 58.5h1M179 58.5h1M183 58.5h1M147 59.5h1M160 59.5h2M184 59.5h1M193 59.5h1M268 59.5h1M173 60.5h1M230 60.5h1M238 60.5h1M246 60.5h1M251 60.5h1M152 62.5h1M179 62.5h1M249 62.5h1M156 63.5h1M200 63.5h1M207 63.5h1M233 63.5h1M243 63.5h1M144 64.5h1M147 64.5h1M154 65.5h1M184 65.5h1M200 65.5h1M143 66.5h2M152 66.5h1M173 66.5h1M257 66.5h1M193 67.5h1M229 67.5h1M185 68.5h1M171 69.5h1M193 69.5h1M218 69.5h1M220 69.5h1M260 69.5h1M153 70.5h1M157 70.5h1M165 70.5h1M174 70.5h1M179 70.5h1M156 71.5h1M166 71.5h1M173 71.5h1M184 71.5h1M264 71.5h1M267 71.5h1M173 72.5h1M178 72.5h1M221 72.5h1M170 73.5h1M247 73.5h1M255 73.5h1M151 74.5h1M166 74.5h2M182 74.5h1M197 74.5h1M256 74.5h1M161 75.5h1M167 75.5h1M195 75.5h1M183 76.5h1M142 77.5h1M162 77.5h1M176 77.5h1M249 77.5h1M151 78.5h1M217 78.5h1M145 79.5h2M209 79.5h1M236 79.5h1M143 80.5h1M212 80.5h1M223 80.5h1M148 81.5h1M168 81.5h1M166 82.5h1M187 82.5h1M248 82.5h1M268 82.5h1M155 83.5h1M189 83.5h1M267 83.5h1M147 84.5h1M152 84.5h1M157 84.5h1M149 85.5h1M182 85.5h1M226 85.5h1M235 85.5h1M254 85.5h1M162 86.5h1M210 86.5h1M225 86.5h1M247 86.5h1M266 87.5h1M268 87.5h1M160 88.5h1M173 88.5h1M187 88.5h1M203 88.5h1M213 88.5h1M228 88.5h1M242 88.5h1M246 88.5h1M253 88.5h1M264 88.5h1M192 89.5h1M203 89.5h1M211 89.5h1M234 89.5h1M238 89.5h1M248 89.5h1M251 89.5h1M172 90.5h1M182 90.5h1M220 90.5h1M223 90.5h1M240 90.5h1M258 90.5h1M263 90.5h2M266 90.5h1M186 91.5h1M205 91.5h1M210 91.5h1M217 91.5h1M239 91.5h1M149 92.5h1M180 92.5h1M266 92.5h1M214 93.5h1M231 93.5h1M251 93.5h1M260 93.5h1M210 94.5h1M229 94.5h1M235 94.5h1M152 95.5h1M182 95.5h1M202 95.5h1M227 95.5h1M234 95.5h1M244 95.5h1M251 95.5h1M204 96.5h1M208 96.5h1M224 96.5h1M233 96.5h1M247 96.5h1M150 97.5h1M191 97.5h1M225 97.5h1M230 97.5h1M246 97.5h1M248 97.5h1M264 97.5h1M153 98.5h1M158 98.5h1M182 98.5h1M218 98.5h1M249 98.5h1M260 98.5h1M265 98.5h1M168 99.5h1M179 99.5h1M184 99.5h1M208 99.5h1M217 99.5h2M249 99.5h1M252 99.5h1M254 99.5h1M265 99.5h1M154 101.5h1M172 101.5h1M182 101.5h1M202 101.5h1M204 101.5h1M244 101.5h1M253 101.5h1M267 101.5h1M147 102.5h1M190 102.5h1M210 102.5h1M214 102.5h1M237 102.5h1M239 102.5h1M267 102.5h1M146 103.5h1M152 103.5h1M160 103.5h1M178 103.5h1M189 103.5h1M149 104.5h1M170 104.5h1M179 104.5h1M188 104.5h1M196 104.5h1M208 104.5h1M256 104.5h1M156 105.5h1M191 105.5h1M205 105.5h1M147 106.5h1M153 106.5h1M160 106.5h1M180 106.5h1M204 106.5h1M213 106.5h1M215 106.5h1M224 106.5h1M227 106.5h1M248 106.5h1M193 107.5h1M199 107.5h1M205 107.5h1M218 107.5h1M227 107.5h2M248 107.5h2M261 107.5h1M150 108.5h2M158 108.5h1M188 108.5h1M208 108.5h1M247 108.5h1M254 108.5h2M192 109.5h1M209 109.5h1M222 109.5h1M241 109.5h1M265 109.5h2M268 109.5h1M165 110.5h1M182 110.5h1M191 110.5h1M195 110.5h1M202 110.5h1M208 110.5h1M213 110.5h1M241 110.5h1M245 110.5h1M259 110.5h1M261 110.5h1M264 110.5h1M179 111.5h1M185 111.5h1M212 111.5h1M244 111.5h1M267 111.5h1M145 112.5h1M221 112.5h1M229 112.5h2M247 112.5h1M255 112.5h1M262 112.5h1M267 112.5h1M158 113.5h1M180 113.5h1M225 113.5h1M240 113.5h1M255 113.5h1M147 114.5h1M157 114.5h1M170 114.5h1M185 114.5h1M187 114.5h1M212 114.5h1M229 114.5h1M258 114.5h2M147 115.5h1M151 115.5h1M170 115.5h1M191 115.5h1M243 115.5h1M247 115.5h1M253 115.5h1M146 116.5h1M159 116.5h1M162 116.5h2M182 116.5h1M188 116.5h1M192 116.5h1M203 116.5h1M228 116.5h1M240 116.5h1M249 116.5h1M150 117.5h1M164 117.5h1M176 117.5h1M187 117.5h1M191 117.5h1M229 117.5h1M231 117.5h1M236 117.5h1M240 117.5h1M144 118.5h1M172 118.5h1M191 118.5h1M193 118.5h1M237 118.5h1M249 118.5h1M257 118.5h1M144 119.5h3M150 119.5h1M164 119.5h1M227 119.5h1M263 119.5h1M265 119.5h1M144 120.5h2M158 120.5h1M184 120.5h1M189 120.5h1M191 120.5h1M229 120.5h1M242 120.5h1M144 121.5h1M166 121.5h1M181 121.5h1M185 121.5h1M230 121.5h1M236 121.5h1M241 121.5h1M144 122.5h1M151 122.5h1M180 122.5h1M229 122.5h1M237 122.5h1M251 122.5h1M268 122.5h1M146 123.5h2M156 123.5h1M235 123.5h1M237 123.5h1M143 124.5h1M267 124.5h1M142 125.5h1M149 125.5h2M242 125.5h1M253 125.5h1M143 126.5h2M249 126.5h1M254 126.5h2M268 126.5h1M144 127.5h1M151 127.5h1M157 127.5h1M162 127.5h1M145 128.5h1M161 128.5h1M268 128.5h1M240 129.5h1M244 129.5h1M248 129.5h1M251 129.5h1M253 129.5h1M258 129.5h1M150 130.5h1M237 130.5h1M262 130.5h1M148 131.5h1M158 131.5h1M242 131.5h1M143 132.5h1M145 132.5h1M148 132.5h1M151 132.5h1M240 132.5h1M248 132.5h1M240 133.5h2M245 133.5h1M254 133.5h1M256 133.5h2M142 134.5h1M256 134.5h1M264 134.5h1M147 135.5h1M154 135.5h1M242 135.5h1M246 135.5h1M148 136.5h2M151 136.5h1M262 136.5h1M144 137.5h2M148 137.5h1M151 137.5h1M245 137.5h1M251 137.5h1M264 137.5h1M144 138.5h1M149 138.5h2M247 138.5h1M259 138.5h2M148 139.5h1M238 139.5h1M242 139.5h1M143 140.5h1M240 140.5h1M246 141.5h1M241 142.5h1M244 142.5h1M255 142.5h1M266 142.5h1M142 143.5h3M142 144.5h3M240 144.5h1M245 144.5h1M266 144.5h1M142 145.5h3M255 145.5h1M260 145.5h1M264 145.5h1M142 146.5h3M268 146.5h1M142 147.5h3M238 147.5h1M241 147.5h1M255 147.5h1M143 148.5h2M237 148.5h1M243 148.5h1M253 148.5h1M142 149.5h3M264 149.5h1M143 150.5h2M142 151.5h3M142 152.5h3M234 152.5h1M142 153.5h2M238 153.5h1M142 154.5h3M234 154.5h1M142 155.5h3M142 156.5h2M142 157.5h3M224 157.5h1M142 158.5h2M213 158.5h1M142 159.5h3M142 160.5h3M142 161.5h1M144 161.5h1M142 162.5h1M144 162.5h1M142 163.5h3M143 164.5h2M142 165.5h1M142 166.5h3M142 167.5h1M144 167.5h1M142 168.5h3M142 169.5h3M142 170.5h3M142 171.5h3M243 286.5h2M281 286.5h1M225 287.5h1M240 287.5h1M259 287.5h1M271 287.5h1M210 288.5h1M240 288.5h1M263 288.5h1M276 288.5h1M279 289.5h1M289 289.5h1M201 290.5h1M247 290.5h1M199 291.5h1M206 291.5h1M219 291.5h1M239 291.5h1M200 292.5h1M213 292.5h1M247 292.5h1M260 292.5h1M287 292.5h1M198 293.5h1M229 293.5h1M233 293.5h1M254 293.5h1M262 293.5h1M235 294.5h1M244 294.5h1M247 294.5h1M269 294.5h1M219 295.5h1M243 295.5h1M259 295.5h1M237 296.5h1M281 296.5h1M210 297.5h1M231 297.5h1M280 297.5h1M243 298.5h1M259 298.5h1M216 299.5h1M223 299.5h1M242 299.5h1M248 299.5h1M254 299.5h2M285 299.5h1M266 300.5h1M250 301.5h1M259 301.5h1M198 302.5h1M230 302.5h1M255 302.5h1M264 302.5h1M226 303.5h1M235 303.5h1M244 303.5h1M252 303.5h1M259 303.5h1M262 303.5h2M198 304.5h1M241 304.5h1M251 305.5h1M265 305.5h1M278 305.5h1M282 305.5h1M206 306.5h1M231 306.5h1M235 306.5h1M271 307.5h1M210 308.5h1M221 308.5h1M233 308.5h2M215 309.5h1M232 309.5h1M253 309.5h1M286 309.5h1M200 310.5h1M230 310.5h1M264 310.5h1M216 311.5h1M242 311.5h1M256 311.5h1M269 311.5h1M258 312.5h1M242 313.5h1M257 313.5h1M264 313.5h1M241 314.5h1M226 315.5h1M230 315.5h1M234 315.5h1M264 315.5h1M278 315.5h1M240 316.5h1M270 316.5h1M225 317.5h1M239 317.5h1M247 317.5h1M264 317.5h1M268 317.5h1M276 317.5h1M205 318.5h1M215 318.5h1M268 318.5h1M236 319.5h1M262 319.5h1M266 319.5h1M279 319.5h1M203 320.5h1M219 320.5h2M229 320.5h1M242 320.5h1M265 320.5h1M281 320.5h1M200 321.5h1M238 321.5h1M250 321.5h1M210 322.5h1M267 322.5h1M207 323.5h1M211 323.5h1M217 323.5h1M219 323.5h1M250 323.5h1M217 324.5h1M242 324.5h1M247 324.5h1M257 324.5h2M218 325.5h1M220 325.5h1M262 325.5h1M265 325.5h1M281 325.5h1M202 326.5h1M227 326.5h1M250 326.5h1M256 326.5h1M263 326.5h1M272 326.5h1M289 326.5h1M215 327.5h1M239 327.5h1M246 327.5h1M252 327.5h1M259 327.5h1M274 327.5h1M214 328.5h1M218 328.5h1M239 328.5h1M241 328.5h1M250 328.5h1M276 328.5h1M287 328.5h1M198 329.5h1M207 329.5h1M227 329.5h1M288 329.5h1M204 330.5h1M206 330.5h1M217 330.5h1M220 330.5h1M238 330.5h1M255 330.5h1M218 331.5h1M231 331.5h1M263 331.5h1M266 331.5h1M271 331.5h1M204 332.5h1M262 332.5h1M270 332.5h1M203 333.5h1M208 333.5h2M217 333.5h1M233 333.5h1M250 333.5h1M256 333.5h2M280 333.5h1M283 333.5h1M198 334.5h1M215 334.5h1M243 334.5h1M249 334.5h1M274 334.5h1M282 334.5h1M198 335.5h1M207 335.5h1M210 335.5h1M222 335.5h1M225 335.5h1M232 335.5h1M252 335.5h1M198 336.5h1M202 336.5h1M224 336.5h1M226 336.5h1M234 336.5h1M246 336.5h1M249 336.5h1M253 336.5h1M259 336.5h1M267 336.5h1M206 337.5h1M241 337.5h1M249 337.5h1M282 337.5h1M205 338.5h1M221 338.5h1M234 338.5h1M237 338.5h1M250 338.5h1M242 339.5h1M269 339.5h1M273 339.5h1M289 339.5h1M216 340.5h1M219 340.5h1M225 340.5h1M237 340.5h1M250 340.5h1M273 340.5h1M203 341.5h2M211 341.5h1M215 341.5h1M219 341.5h1M221 341.5h1M229 341.5h1M243 341.5h1M262 341.5h1M265 341.5h1M275 341.5h1M285 341.5h1M288 341.5h1M198 342.5h1M206 342.5h1M212 342.5h1M228 342.5h1M267 342.5h1M279 342.5h1M208 343.5h1M218 343.5h1M221 343.5h1M225 343.5h2M231 343.5h1M234 343.5h1M256 343.5h2M276 343.5h1M204 344.5h1M215 344.5h1M220 344.5h1M246 344.5h1M249 344.5h1M253 344.5h1M261 344.5h1M269 344.5h1M278 344.5h1M287 344.5h1M201 345.5h1M204 345.5h1M206 345.5h1M211 345.5h1M218 345.5h1M220 345.5h1M224 345.5h1M241 345.5h1M250 345.5h1M265 345.5h2M283 345.5h1M203 346.5h1M229 346.5h1M233 346.5h1M237 346.5h1M254 346.5h1M266 346.5h1M279 346.5h1M283 346.5h1M198 347.5h2M203 347.5h1M209 347.5h1M211 347.5h2M222 347.5h1M225 347.5h1M238 347.5h1M241 347.5h1M267 347.5h1M277 347.5h1M279 347.5h1M200 348.5h1M221 348.5h1M232 348.5h1M244 348.5h1M255 348.5h1M259 348.5h2M272 348.5h1M275 348.5h1M245 349.5h1M269 349.5h1M282 349.5h1M204 350.5h1M219 350.5h1M230 350.5h2M288 350.5h1M202 351.5h1M206 351.5h1M209 351.5h1M211 351.5h2M216 351.5h2M230 351.5h1M248 351.5h1M266 351.5h2M208 352.5h1M213 352.5h1M229 352.5h1M240 352.5h1M247 352.5h1M265 352.5h1M288 352.5h1M248 353.5h1M253 353.5h1M259 353.5h1M272 353.5h1M284 353.5h1M198 354.5h1M211 354.5h1M227 354.5h2M233 354.5h1M240 354.5h1M244 354.5h1M254 354.5h1M258 354.5h1M265 354.5h2M202 355.5h1M206 355.5h1M213 355.5h1M223 355.5h1M227 355.5h1M234 355.5h1M252 355.5h1M254 355.5h1M261 355.5h1M278 355.5h1M280 355.5h1M289 355.5h1M203 356.5h2M214 356.5h1M243 356.5h1M253 356.5h1M199 357.5h1M211 357.5h1M213 357.5h1M234 357.5h1M241 357.5h1M254 357.5h1M269 357.5h1M289 357.5h1M200 358.5h1M235 358.5h1M247 358.5h1M255 358.5h2M261 358.5h1M286 358.5h1M203 359.5h2M227 359.5h1M231 359.5h1M237 359.5h1M260 359.5h1M278 359.5h1M201 360.5h1M231 360.5h1M235 360.5h1M246 360.5h1M267 360.5h1M285 360.5h1M199 361.5h1M202 361.5h1M206 361.5h1M208 361.5h1M212 361.5h1M218 361.5h1M222 361.5h1M232 361.5h1M237 361.5h1M240 361.5h1M249 361.5h1M259 361.5h1M261 361.5h1M270 361.5h1M273 361.5h1M200 362.5h1M220 362.5h1M225 362.5h1M230 362.5h1M232 362.5h1M236 362.5h1M239 362.5h1M248 362.5h1M262 362.5h1M272 362.5h1M278 362.5h1M198 363.5h1M224 363.5h1M234 363.5h1M244 363.5h1M247 363.5h1M253 363.5h1M265 363.5h1M278 363.5h1M199 364.5h1M201 364.5h1M206 364.5h3M215 364.5h1M223 364.5h1M240 364.5h1M252 364.5h1M263 364.5h1M265 364.5h1M279 364.5h1M204 365.5h1M220 365.5h1M228 365.5h1M249 365.5h1M252 365.5h1M267 365.5h1M272 365.5h1M274 365.5h1M280 365.5h1M224 366.5h1M236 366.5h1M244 366.5h1M257 366.5h2M270 366.5h3M276 366.5h1M287 366.5h1M198 367.5h1M201 367.5h1M203 367.5h1M206 367.5h1M208 367.5h1M211 367.5h1M233 367.5h2M242 367.5h1M253 367.5h1M255 367.5h1M260 367.5h1M265 367.5h1M277 367.5h1" stroke="#ff1010" stroke-width="1" fill="none"/>
<path d="M215 54.5h1M265 54.5h1M213 55.5h1M217 55.5h1M256 55.5h1M200 56.5h1M232 56.5h1M257 56.5h1M173 57.5h1M192 57.5h1M205 58.5h1M212 58.5h1M225 58.5h1M236 58.5h1M183 59.5h1M224 59.5h2M255 59.5h1M164 60.5h1M189 60.5h1M212 60.5h1M255 60.5h1M233 61.5h1M244 61.5h1M148 62.5h1M194 62.5h1M198 62.5h1M209 62.5h1M256 62.5h2M172 63.5h1M192 63.5h1M196 63.5h1M201 63.5h1M204 63.5h1M214 63.5h1M216 63.5h1M221 63.5h1M250 63.5h1M268 63.5h1M159 64.5h1M171 64.5h1M176 64.5h1M183 64.5h1M203 64.5h1M222 64.5h1M265 64.5h1M267 64.5h1M172 65.5h1M176 65.5h1M207 65.5h1M218 65.5h1M240 65.5h1M253 65.5h1M179 66.5h1M191 66.5h1M198 66.5h1M226 66.5h1M242 66.5h1M267 66.5h1M150 67.5h1M198 67.5h1M220 67.5h1M223 67.5h1M242 67.5h1M247 67.5h1M249 67.5h1M142 68.5h1M149 68.5h1M166 68.5h1M179 68.5h1M230 68.5h1M234 68.5h1M237 68.5h1M246 68.5h1M252 68.5h1M195 69.5h1M224 69.5h1M226 69.5h1M264 69.5h1M142 70.5h1M192 70.5h1M251 70.5h1M260 70.5h1M162 71.5h1M176 71.5h1M191 71.5h1M230 71.5h1M245 71.5h1M249 71.5h1M255 71.5h1M192 72.5h1M205 72.5h1M208 72.5h1M222 72.5h1M209 73.5h1M232 73.5h1M236 73.5h1M252 73.5h1M265 73.5h1M168 74.5h1M192 74.5h1M222 74.5h1M263 74.5h1M187 75.5h1M206 75.5h1M219 75.5h1M221 75.5h1M226 75.5h1M233 75.5h1M250 75.5h1M265 75.5h1M175 76.5h1M206 76.5h1M219 76.5h1M226 76.5h1M232 76.5h1M175 77.5h1M211 77.5h1M234 77.5h1M260 77.5h1M267 77.5h1M173 78.5h2M179 78.5h1M181 78.5h1M185 78.5h1M222 78.5h1M248 78.5h1M259 78.5h1M266 78.5h1M149 79.5h1M153 79.5h1M190 79.5h1M193 79.5h1M203 79.5h1M205 79.5h1M222 79.5h1M230 79.5h1M237 79.5h1M246 79.5h2M144 80.5h1M175 80.5h1M206 80.5h2M211 80.5h1M230 80.5h1M237 80.5h1M258 80.5h1M260 80.5h1M202 81.5h1M209 81.5h1M223 81.5h1M227 81.5h1M231 81.5h1M250 81.5h1M264 81.5h1M143 82.5h1M191 82.5h1M199 82.5h2M210 82.5h1M227 82.5h1M236 82.5h1M241 82.5h1M245 82.5h1M262 82.5h1M164 83.5h1M187 83.5h1M190 83.5h1M206 83.5h1M234 83.5h1M239 83.5h1M244 83.5h1M265 83.5h1M154 84.5h1M210 84.5h1M229 84.5h1M171 85.5h1M179 85.5h1M181 85.5h1M184 85.5h2M188 85.5h1M190 85.5h1M192 85.5h1M196 85.5h1M204 85.5h1M209 85.5h1M214 85.5h1M217 85.5h1M222 85.5h1M236 85.5h2M242 85.5h3M259 85.5h1M261 85.5h1M266 85.5h1M268 85.5h1M145 86.5h1M165 86.5h1M192 86.5h1M203 86.5h1M205 86.5h1M224 86.5h1M234 86.5h1M246 86.5h1M254 86.5h1M143 87.5h1M176 87.5h1M184 87.5h2M208 87.5h1M214 87.5h1M219 87.5h1M230 87.5h1M237 87.5h1M239 87.5h1M184 88.5h1M192 88.5h1M198 88.5h1M202 88.5h1M206 88.5h1M215 88.5h1M218 88.5h1M221 88.5h1M225 88.5h3M238 88.5h1M240 88.5h1M256 88.5h1M142 89.5h1M153 89.5h1M157 89.5h1M174 89.5h1M176 89.5h1M181 89.5h1M194 89.5h1M197 89.5h1M205 89.5h1M209 89.5h1M212 89.5h1M214 89.5h1M220 89.5h1M236 89.5h1M242 89.5h1M245 89.5h1M145 90.5h1M177 90.5h1M181 90.5h1M186 90.5h1M190 90.5h1M192 90.5h1M199 90.5h1M202 90.5h1M216 90.5h1M228 90.5h1M236 90.5h1M238 90.5h1M242 90.5h1M246 90.5h1M256 90.5h1M267 90.5h1M168 91.5h1M173 91.5h1M182 91.5h1M195 91.5h1M212 91.5h1M221 91.5h1M247 91.5h1M257 91.5h1M264 91.5h1M150 92.5h1M171 92.5h1M173 92.5h1M182 92.5h1M186 92.5h1M190 92.5h1M196 92.5h1M200 92.5h1M229 92.5h1M234 92.5h1M252 92.5h1M148 93.5h1M190 93.5h1M198 93.5h1M203 93.5h1M215 93.5h1M234 93.5h1M238 93.5h1M246 93.5h1M262 93.5h1M189 94.5h1M196 94.5h1M201 94.5h1M203 94.5h1M211 94.5h1M218 94.5h1M228 94.5h1M232 94.5h1M240 94.5h1M258 94.5h1M263 94.5h1M150 95.5h1M154 95.5h1M171 95.5h1M177 95.5h3M183 95.5h1M187 95.5h1M197 95.5h2M207 95.5h1M211 95.5h1M217 95.5h1M230 95.5h1M238 95.5h1M241 95.5h1M246 95.5h1M263 95.5h1M169 96.5h1M173 96.5h1M178 96.5h1M193 96.5h1M197 96.5h1M200 96.5h1M205 96.5h1M221 96.5h1M232 96.5h1M236 96.5h1M241 96.5h1M248 96.5h1M264 96.5h1M147 97.5h1M180 97.5h1M193 97.5h1M214 97.5h1M220 97.5h1M222 97.5h1M229 97.5h1M238 97.5h1M241 97.5h1M243 97.5h1M249 97.5h1M254 97.5h2M266 97.5h1M142 98.5h1M147 98.5h1M154 98.5h1M159 98.5h1M173 98.5h1M178 98.5h2M193 98.5h1M203 98.5h2M212 98.5h1M227 98.5h1M232 98.5h1M237 98.5h1M243 98.5h1M252 98.5h1M153 99.5h1M174 99.5h1M182 99.5h2M185 99.5h2M191 99.5h1M193 99.5h1M198 99.5h1M210 99.5h1M213 99.5h1M215 99.5h1M219 99.5h2M229 99.5h3M233 99.5h1M236 99.5h1M242 99.5h1M244 99.5h1M151 100.5h1M155 100.5h1M180 100.5h1M190 100.5h2M194 100.5h1M211 100.5h1M247 100.5h1M249 100.5h1M268 100.5h1M187 101.5h1M194 101.5h1M196 101.5h1M199 101.5h1M234 101.5h1M238 101.5h2M254 101.5h1M169 102.5h1M178 102.5h1M180 102.5h1M191 102.5h1M201 102.5h1M205 102.5h1M234 102.5h1M236 102.5h1M241 102.5h2M248 102.5h2M256 102.5h1M258 102.5h1M261 102.5h1M171 103.5h1M195 103.5h1M219 103.5h1M221 103.5h1M223 103.5h1M243 103.5h1M246 103.5h1M263 103.5h1M266 103.5h1M165 104.5h1M184 104.5h1M187 104.5h1M194 104.5h1M203 104.5h2M216 104.5h1M228 104.5h1M240 104.5h1M245 104.5h1M262 104.5h1M267 104.5h1M174 105.5h1M180 105.5h1M204 105.5h1M208 105.5h1M220 105.5h1M230 105.5h1M235 105.5h1M263 105.5h1M154 106.5h1M158 106.5h1M182 106.5h1M220 106.5h1M258 106.5h1M179 107.5h1M190 107.5h1M215 107.5h1M231 107.5h1M241 107.5h1M152 108.5h1M170 108.5h1M251 108.5h1M259 108.5h1M146 109.5h1M181 109.5h1M216 109.5h1M245 109.5h1M237 110.5h1M227 111.5h1M231 111.5h1M167 112.5h1M176 115.5h1M231 115.5h1M246 115.5h1M179 119.5h1M236 119.5h1M157 132.5h1M266 133.5h1M245 139.5h1M234 146.5h1M263 146.5h1M268 148.5h1M249 150.5h1M245 153.5h1M224 156.5h1M228 161.5h1M267 161.5h1M205 162.5h1M195 164.5h1M222 165.5h1M202 166.5h1M216 166.5h1M237 166.5h1M233 167.5h1M177 168.5h1M139 252.5h1M154 252.5h1M164 252.5h1M121 253.5h1M145 253.5h1M143 254.5h1M161 254.5h1M123 255.5h1M152 255.5h1M264 255.5h1M138 256.5h1M194 256.5h1M203 256.5h1M265 256.5h1M121 257.5h1M190 257.5h1M224 257.5h1M289 257.5h1M227 258.5h1M280 258.5h1M262 259.5h1M280 259.5h1M134 260.5h1M224 260.5h1M289 260.5h1M166 261.5h1M259 261.5h1M131 262.5h1M195 262.5h1M254 262.5h1M172 263.5h1M138 264.5h1M263 264.5h1M127 265.5h1M144 265.5h1M224 265.5h1M121 266.5h1M123 266.5h1M132 266.5h1M149 266.5h1M154 266.5h1M216 266.5h1M235 266.5h1M121 267.5h1M125 267.5h1M184 267.5h2M234 267.5h1M122 268.5h1M136 268.5h1M145 268.5h1M131 269.5h1M200 269.5h1M142 270.5h1M208 270.5h1M121 271.5h1M124 271.5h1M145 271.5h1M149 271.5h1M161 271.5h1M242 271.5h1M246 271.5h1M121 272.5h1M128 272.5h1M131 272.5h1M145 272.5h1M153 272.5h1M163 272.5h1M167 272.5h1M170 272.5h1M283 272.5h1M286 272.5h1M121 273.5h1M145 273.5h1M164 273.5h1M232 273.5h1M267 273.5h1M121 274.5h1M125 274.5h1M137 274.5h1M140 274.5h2M150 274.5h2M159 274.5h1M175 274.5h1M253 274.5h1M121 275.5h1M132 275.5h1M174 275.5h1M121 276.5h1M140 276.5h1M150 276.5h1M169 276.5h2M181 276.5h1M121 277.5h1M134 277.5h1M139 277.5h1M141 277.5h1M152 277.5h1M164 277.5h1M246 277.5h1M271 277.5h1M121 278.5h1M127 278.5h2M138 278.5h1M144 278.5h1M146 278.5h1M150 278.5h1M153 278.5h1M175 278.5h1M183 278.5h1M190 278.5h1M271 278.5h1M288 278.5h1M121 279.5h3M126 279.5h1M130 279.5h1M142 279.5h1M144 279.5h1M147 279.5h2M156 279.5h1M161 279.5h1M173 279.5h1M121 280.5h2M138 280.5h1M151 280.5h2M158 280.5h1M165 280.5h1M173 280.5h1M204 280.5h1M121 281.5h2M143 281.5h3M147 281.5h1M149 281.5h2M155 281.5h1M159 281.5h1M161 281.5h1M165 281.5h1M177 281.5h1M189 281.5h1M195 281.5h1M198 281.5h1M225 281.5h1M122 282.5h1M130 282.5h1M134 282.5h1M146 282.5h2M151 282.5h1M156 282.5h2M173 282.5h1M176 282.5h1M199 282.5h2M209 282.5h1M235 282.5h1M242 282.5h1M140 283.5h1M144 283.5h1M146 283.5h1M150 283.5h1M152 283.5h2M159 283.5h1M162 283.5h3M171 283.5h1M181 283.5h1M130 284.5h1M132 284.5h1M137 284.5h1M144 284.5h1M151 284.5h3M170 284.5h1M176 284.5h1M180 284.5h1M187 284.5h1M195 284.5h1M121 285.5h2M127 285.5h1M133 285.5h1M139 285.5h1M142 285.5h1M145 285.5h1M148 285.5h2M153 285.5h1M155 285.5h1M159 285.5h1M165 285.5h1M168 285.5h1M170 285.5h3M177 285.5h1M180 285.5h1M190 285.5h1M131 286.5h2M143 286.5h1M146 286.5h1M148 286.5h1M153 286.5h2M158 286.5h1M162 286.5h1M164 286.5h1M173 286.5h1M175 286.5h3M179 286.5h2M186 286.5h1M197 286.5h1M121 287.5h1M123 287.5h1M125 287.5h1M137 287.5h2M146 287.5h1M149 287.5h1M151 287.5h1M157 287.5h2M172 287.5h1M175 287.5h1M186 287.5h1M194 287.5h1M122 288.5h1M128 288.5h1M130 288.5h1M132 288.5h1M136 288.5h2M142 288.5h2M145 288.5h1M150 288.5h1M152 288.5h1M158 288.5h3M181 288.5h1M190 288.5h1M195 288.5h1M121 289.5h2M126 289.5h1M128 289.5h1M131 289.5h1M139 289.5h4M147 289.5h3M151 289.5h1M154 289.5h3M159 289.5h1M183 289.5h1M193 289.5h1M124 290.5h1M126 290.5h2M132 290.5h1M135 290.5h1M137 290.5h1M140 290.5h1M147 290.5h5M156 290.5h3M160 290.5h1M162 290.5h1M164 290.5h1M168 290.5h1M178 290.5h1M180 290.5h1M188 290.5h1M193 290.5h1M195 290.5h1M121 291.5h2M124 291.5h1M127 291.5h1M130 291.5h1M132 291.5h1M135 291.5h1M137 291.5h2M144 291.5h1M147 291.5h2M150 291.5h2M153 291.5h1M155 291.5h2M162 291.5h1M165 291.5h2M169 291.5h2M172 291.5h2M175 291.5h1M178 291.5h1M181 291.5h1M186 291.5h2M121 292.5h1M131 292.5h1M133 292.5h1M136 292.5h2M141 292.5h2M145 292.5h1M147 292.5h1M150 292.5h1M152 292.5h1M156 292.5h1M158 292.5h1M160 292.5h1M162 292.5h1M168 292.5h1M178 292.5h1M183 292.5h1M192 292.5h1M121 293.5h1M126 293.5h1M129 293.5h2M132 293.5h1M134 293.5h4M142 293.5h2M146 293.5h2M149 293.5h1M151 293.5h1M166 293.5h1M168 293.5h2M172 293.5h1M175 293.5h1M186 293.5h1M189 293.5h1M191 293.5h1M121 294.5h1M124 294.5h2M127 294.5h1M132 294.5h1M134 294.5h1M137 294.5h1M143 294.5h5M150 294.5h4M157 294.5h1M160 294.5h1M168 294.5h1M172 294.5h1M179 294.5h2M182 294.5h1M196 294.5h1M121 295.5h1M130 295.5h1M133 295.5h3M143 295.5h5M149 295.5h1M151 295.5h1M154 295.5h1M157 295.5h1M159 295.5h1M165 295.5h1M171 295.5h1M173 295.5h2M178 295.5h1M183 295.5h1M196 295.5h1M121 296.5h1M138 296.5h2M144 296.5h1M146 296.5h1M148 296.5h1M150 296.5h1M155 296.5h1M163 296.5h1M173 296.5h1M176 296.5h1M180 296.5h1M185 296.5h1M121 297.5h1M127 297.5h1M137 297.5h1M143 297.5h1M146 297.5h2M151 297.5h1M153 297.5h1M155 297.5h1M157 297.5h1M164 297.5h2M174 297.5h1M177 297.5h1M179 297.5h1M184 297.5h1M192 297.5h1M121 298.5h2M135 298.5h2M138 298.5h3M142 298.5h4M148 298.5h1M152 298.5h2M156 298.5h1M158 298.5h2M165 298.5h1M173 298.5h1M183 298.5h1M189 298.5h1M192 298.5h1M197 298.5h1M121 299.5h1M128 299.5h1M130 299.5h1M132 299.5h1M136 299.5h2M139 299.5h1M143 299.5h1M149 299.5h1M166 299.5h1M169 299.5h1M171 299.5h1M174 299.5h1M182 299.5h1M188 299.5h1M125 300.5h1M131 300.5h1M133 300.5h1M135 300.5h1M137 300.5h1M140 300.5h2M144 300.5h1M146 300.5h1M149 300.5h1M152 300.5h3M157 300.5h2M160 300.5h1M163 300.5h1M171 300.5h2M178 300.5h1M181 300.5h1M187 300.5h1M191 300.5h1M193 300.5h2M131 301.5h2M137 301.5h6M151 301.5h1M160 301.5h1M162 301.5h1M165 301.5h1M168 301.5h1M171 301.5h1M173 301.5h1M179 301.5h1M183 301.5h2M186 301.5h1M193 301.5h1M195 301.5h1M124 302.5h1M126 302.5h1M132 302.5h2M137 302.5h1M142 302.5h1M150 302.5h1M153 302.5h1M157 302.5h2M163 302.5h1M173 302.5h1M177 302.5h1M179 302.5h1M181 302.5h1M187 302.5h1M192 302.5h1M196 302.5h1M121 303.5h1M127 303.5h1M143 303.5h1M151 303.5h1M153 303.5h1M157 303.5h1M162 303.5h1M169 303.5h1M171 303.5h1M174 303.5h2M180 303.5h1M183 303.5h2M189 303.5h1M195 303.5h2M121 304.5h1M128 304.5h1M135 304.5h1M142 304.5h1M148 304.5h3M152 304.5h2M159 304.5h1M162 304.5h1M167 304.5h1M181 304.5h1M171 305.5h1M176 305.5h1M182 305.5h1M184 305.5h2M172 306.5h2M189 306.5h1M192 306.5h1M171 307.5h2M176 307.5h1M178 307.5h1M184 307.5h1M176 308.5h1M184 308.5h1M191 308.5h1M176 309.5h1M173 310.5h1M183 310.5h1M178 311.5h3M185 311.5h1M194 311.5h1M172 313.5h2M175 313.5h1M180 313.5h1M184 313.5h1M176 314.5h1M186 314.5h1M193 314.5h1M175 315.5h1M179 315.5h1M191 315.5h1M188 316.5h1M192 316.5h1M186 317.5h1M173 318.5h1M185 318.5h1M191 318.5h1M175 319.5h1M183 319.5h1M185 319.5h3M179 320.5h2M189 320.5h1M191 320.5h1M195 320.5h2M171 321.5h1M172 322.5h1M177 322.5h1M184 322.5h2M192 322.5h1M194 322.5h1M176 323.5h1M188 323.5h2M192 323.5h1M174 324.5h1M183 324.5h1M185 324.5h1M190 324.5h1M183 325.5h2M188 325.5h2M171 326.5h2M174 326.5h1M178 326.5h1M180 326.5h2M184 326.5h1M187 326.5h1M190 326.5h1M192 326.5h1M194 326.5h1M196 326.5h1M176 327.5h1M184 327.5h1M186 327.5h1M172 328.5h1M176 328.5h1M180 328.5h1M182 328.5h1M184 328.5h1M186 328.5h1M190 328.5h1M192 328.5h1M194 328.5h1M175 329.5h1M177 329.5h1M187 329.5h2M192 329.5h1M171 330.5h1M174 330.5h2M195 330.5h1M175 331.5h2M184 331.5h1M187 331.5h1M190 331.5h1M171 332.5h1M173 332.5h1M182 332.5h1M186 332.5h2M191 332.5h1M193 332.5h1M195 332.5h1M177 333.5h4M190 333.5h2M193 333.5h1M196 333.5h1M183 334.5h1M185 334.5h1M188 334.5h1M190 334.5h1M193 334.5h2M172 335.5h1M175 335.5h1M177 335.5h1M181 335.5h1M187 335.5h1M193 335.5h1M195 335.5h1M172 336.5h1M174 336.5h1M176 336.5h2M180 336.5h1M182 336.5h2M185 336.5h1M188 336.5h1M193 336.5h1M196 336.5h1M179 337.5h3M183 337.5h1M186 337.5h1M189 337.5h3M195 337.5h2M176 338.5h1M180 338.5h1M183 338.5h1M186 338.5h3M171 339.5h1M174 339.5h1M176 339.5h1M179 339.5h2M184 339.5h1M186 339.5h2M190 339.5h1M192 339.5h1M196 339.5h1M174 340.5h1M176 340.5h1M178 340.5h2M181 340.5h3M185 340.5h2M189 340.5h2M193 340.5h4M171 341.5h1M174 341.5h2M189 341.5h2M174 342.5h1M178 342.5h1M184 342.5h4M189 342.5h1M192 342.5h3M196 342.5h1M175 343.5h2M178 343.5h7M186 343.5h2M191 343.5h1M193 343.5h3M174 344.5h6M182 344.5h2M185 344.5h2M188 344.5h1M192 344.5h2M175 345.5h2M181 345.5h2M184 345.5h2M188 345.5h2M191 345.5h4M177 346.5h3M183 346.5h4M188 346.5h1M192 346.5h1M194 346.5h2M171 347.5h1M174 347.5h1M176 347.5h2M179 347.5h2M182 347.5h6M191 347.5h4M196 347.5h1M174 348.5h1M178 348.5h8M187 348.5h1M189 348.5h1M191 348.5h3M171 349.5h1M173 349.5h1M179 349.5h3M183 349.5h3M188 349.5h3M192 349.5h3M196 349.5h1M175 350.5h3M181 350.5h2M184 350.5h4M189 350.5h5M171 351.5h1M174 351.5h7M182 351.5h6M190 351.5h2M195 351.5h1M171 352.5h1M173 352.5h1M176 352.5h1M178 352.5h4M184 352.5h2M188 352.5h2M191 352.5h2M194 352.5h1M173 353.5h1M175 353.5h1M177 353.5h7M185 353.5h2M188 353.5h2M192 353.5h2M196 353.5h1M172 354.5h2M175 354.5h1M177 354.5h1M185 354.5h1M187 354.5h5M193 354.5h1M173 355.5h1M176 355.5h4M181 355.5h1M183 355.5h4M188 355.5h1M190 355.5h2M193 355.5h1M196 355.5h1M172 356.5h1M177 356.5h3M181 356.5h6M188 356.5h1M190 356.5h1M192 356.5h2M195 356.5h2M173 357.5h5M179 357.5h2M183 357.5h5M193 357.5h1M195 357.5h2M171 358.5h1M173 358.5h3M178 358.5h1M180 358.5h1M182 358.5h4M188 358.5h3M194 358.5h1M172 359.5h3M176 359.5h2M182 359.5h1M184 359.5h1M186 359.5h2M189 359.5h1M191 359.5h2M195 359.5h1M171 360.5h1M173 360.5h1M177 360.5h1M182 360.5h1M184 360.5h4M189 360.5h2M172 361.5h2M177 361.5h1M179 361.5h1M181 361.5h2M185 361.5h1M187 361.5h1M189 361.5h2M193 361.5h1M172 362.5h1M174 362.5h1M176 362.5h1M182 362.5h2M190 362.5h1M192 362.5h1M194 362.5h2M172 363.5h1M181 363.5h3M185 363.5h1M187 363.5h3M191 363.5h1M193 363.5h3M176 364.5h1M179 364.5h2M182 364.5h1M185 364.5h1M187 364.5h1M191 364.5h2M195 364.5h1M172 365.5h1M175 365.5h2M182 365.5h2M185 365.5h2M188 365.5h2M191 365.5h1M193 365.5h4M175 366.5h2M178 366.5h1M194 366.5h1M196 366.5h1M173 367.5h1M176 367.5h1M179 367.5h1M182 367.5h2M186 367.5h2M189 367.5h1M191 367.5h3M171 368.5h1M177 368.5h2M180 368.5h2M188 368.5h1M190 368.5h1M192 368.5h1M195 368.5h1M171 369.5h1M182 369.5h1M186 369.5h1M188 369.5h2M194 369.5h1M173 370.5h1M185 370.5h1M189 370.5h2" stroke="#1010ff" stroke-width="1" fill="none"/>
</g>
<rect x="141.3" y="53.5" width="128.2" height="119.9" fill="none" stroke="#4a4a4a" stroke-width="1.3"/>
<rect x="139.3" y="51.5" width="4" height="4" fill="none" stroke="#4a4a4a" stroke-width="0.9"/>
<rect x="203.4" y="51.5" width="4" height="4" fill="none" stroke="#4a4a4a" stroke-width="0.9"/>
<rect x="267.5" y="51.5" width="4" height="4" fill="none" stroke="#4a4a4a" stroke-width="0.9"/>
<rect x="139.3" y="111.5" width="4" height="4" fill="none" stroke="#4a4a4a" stroke-width="0.9"/>
<rect x="267.5" y="111.5" width="4" height="4" fill="none" stroke="#4a4a4a" stroke-width="0.9"/>
<rect x="139.3" y="171.4" width="4" height="4" fill="none" stroke="#4a4a4a" stroke-width="0.9"/>
<rect x="203.4" y="171.4" width="4" height="4" fill="none" stroke="#4a4a4a" stroke-width="0.9"/>
<rect x="267.5" y="171.4" width="4" height="4" fill="none" stroke="#4a4a4a" stroke-width="0.9"/>
<text x="213.5" y="117.5" font-size="7.4" font-weight="normal" text-anchor="middle" fill="#111" stroke="#111" stroke-width="0.15">FSC SSC</text>
<rect x="120.3" y="304.6" width="50.9" height="68.3" fill="none" stroke="#4a4a4a" stroke-width="1.4"/>
<path d="M196.5 368.5 L198.6 285.3 H222.7 V284.7 H268 V283.9 H290.6 M196.5 368.5 H244.6 V370 H290.6" fill="none" stroke="#4a4a4a" stroke-width="1.4"/>
<text x="178.8" y="288.2" font-size="7" font-weight="normal" text-anchor="middle" fill="#111" stroke="#111" stroke-width="0.15">GFP-</text>
<text x="240" y="330" font-size="7.2" font-weight="normal" text-anchor="middle" fill="#111" stroke="#111" stroke-width="0.15">GFP +</text>
<rect x="117.2" y="13.9" width="172.60000000000002" height="160.9" fill="none" stroke="#505050" stroke-width="1.8"/>
<text x="110.8" y="26.1" font-size="12" font-weight="normal" text-anchor="end" fill="#000" stroke="#000" stroke-width="0.3">250</text>
<text x="110.8" y="56.3" font-size="12" font-weight="normal" text-anchor="end" fill="#000" stroke="#000" stroke-width="0.3">200</text>
<text x="110.8" y="87.2" font-size="12" font-weight="normal" text-anchor="end" fill="#000" stroke="#000" stroke-width="0.3">150</text>
<text x="110.8" y="118.4" font-size="12" font-weight="normal" text-anchor="end" fill="#000" stroke="#000" stroke-width="0.3">100</text>
<text x="110.8" y="148.3" font-size="12" font-weight="normal" text-anchor="end" fill="#000" stroke="#000" stroke-width="0.3">50</text>
<text x="110.8" y="176.9" font-size="12" font-weight="normal" text-anchor="end" fill="#000" stroke="#000" stroke-width="0.3">0</text>
<line x1="113.2" y1="173.4" x2="117.2" y2="173.4" stroke="#505050" stroke-width="1.2" />
<line x1="114.7" y1="167.368" x2="117.2" y2="167.368" stroke="#505050" stroke-width="1.2" />
<line x1="114.7" y1="161.336" x2="117.2" y2="161.336" stroke="#505050" stroke-width="1.2" />
<line x1="114.7" y1="155.304" x2="117.2" y2="155.304" stroke="#505050" stroke-width="1.2" />
<line x1="114.7" y1="149.272" x2="117.2" y2="149.272" stroke="#505050" stroke-width="1.2" />
<line x1="113.2" y1="143.24" x2="117.2" y2="143.24" stroke="#505050" stroke-width="1.2" />
<line x1="114.7" y1="137.208" x2="117.2" y2="137.208" stroke="#505050" stroke-width="1.2" />
<line x1="114.7" y1="131.17600000000002" x2="117.2" y2="131.17600000000002" stroke="#505050" stroke-width="1.2" />
<line x1="114.7" y1="125.144" x2="117.2" y2="125.144" stroke="#505050" stroke-width="1.2" />
<line x1="114.7" y1="119.112" x2="117.2" y2="119.112" stroke="#505050" stroke-width="1.2" />
<line x1="113.2" y1="113.08" x2="117.2" y2="113.08" stroke="#505050" stroke-width="1.2" />
<line x1="114.7" y1="107.048" x2="117.2" y2="107.048" stroke="#505050" stroke-width="1.2" />
<line x1="114.7" y1="101.016" x2="117.2" y2="101.016" stroke="#505050" stroke-width="1.2" />
<line x1="114.7" y1="94.98400000000001" x2="117.2" y2="94.98400000000001" stroke="#505050" stroke-width="1.2" />
<line x1="114.7" y1="88.95200000000001" x2="117.2" y2="88.95200000000001" stroke="#505050" stroke-width="1.2" />
<line x1="113.2" y1="82.92" x2="117.2" y2="82.92" stroke="#505050" stroke-width="1.2" />
<line x1="114.7" y1="76.888" x2="117.2" y2="76.888" stroke="#505050" stroke-width="1.2" />
<line x1="114.7" y1="70.856" x2="117.2" y2="70.856" stroke="#505050" stroke-width="1.2" />
<line x1="114.7" y1="64.824" x2="117.2" y2="64.824" stroke="#505050" stroke-width="1.2" />
<line x1="114.7" y1="58.79199999999999" x2="117.2" y2="58.79199999999999" stroke="#505050" stroke-width="1.2" />
<line x1="113.2" y1="52.75999999999999" x2="117.2" y2="52.75999999999999" stroke="#505050" stroke-width="1.2" />
<line x1="114.7" y1="46.727999999999994" x2="117.2" y2="46.727999999999994" stroke="#505050" stroke-width="1.2" />
<line x1="114.7" y1="40.696" x2="117.2" y2="40.696" stroke="#505050" stroke-width="1.2" />
<line x1="114.7" y1="34.664000000000016" x2="117.2" y2="34.664000000000016" stroke="#505050" stroke-width="1.2" />
<line x1="114.7" y1="28.632000000000005" x2="117.2" y2="28.632000000000005" stroke="#505050" stroke-width="1.2" />
<line x1="113.2" y1="22.599999999999994" x2="117.2" y2="22.599999999999994" stroke="#505050" stroke-width="1.2" />
<text x="116" y="190" font-size="11.6" font-weight="normal" text-anchor="middle" fill="#000" stroke="#000" stroke-width="0.3">0</text>
<text x="151" y="190" font-size="11.6" font-weight="normal" text-anchor="middle" fill="#000" stroke="#000" stroke-width="0.3">50</text>
<text x="183" y="190" font-size="11.6" font-weight="normal" text-anchor="middle" fill="#000" stroke="#000" stroke-width="0.3">100</text>
<text x="216.8" y="190" font-size="11.6" font-weight="normal" text-anchor="middle" fill="#000" stroke="#000" stroke-width="0.3">150</text>
<text x="247" y="190" font-size="11.6" font-weight="normal" text-anchor="middle" fill="#000" stroke="#000" stroke-width="0.3">200</text>
<text x="280.6" y="190" font-size="11.6" font-weight="normal" text-anchor="middle" fill="#000" stroke="#000" stroke-width="0.3">250</text>
<line x1="122.584" y1="174.8" x2="122.584" y2="178.3" stroke="#505050" stroke-width="1.2" />
<line x1="129.168" y1="174.8" x2="129.168" y2="178.3" stroke="#505050" stroke-width="1.2" />
<line x1="135.752" y1="174.8" x2="135.752" y2="178.3" stroke="#505050" stroke-width="1.2" />
<line x1="142.336" y1="174.8" x2="142.336" y2="178.3" stroke="#505050" stroke-width="1.2" />
<line x1="148.92000000000002" y1="174.8" x2="148.92000000000002" y2="179.8" stroke="#505050" stroke-width="1.2" />
<line x1="155.50400000000002" y1="174.8" x2="155.50400000000002" y2="178.3" stroke="#505050" stroke-width="1.2" />
<line x1="162.08800000000002" y1="174.8" x2="162.08800000000002" y2="178.3" stroke="#505050" stroke-width="1.2" />
<line x1="168.672" y1="174.8" x2="168.672" y2="178.3" stroke="#505050" stroke-width="1.2" />
<line x1="175.256" y1="174.8" x2="175.256" y2="178.3" stroke="#505050" stroke-width="1.2" />
<line x1="181.84000000000003" y1="174.8" x2="181.84000000000003" y2="179.8" stroke="#505050" stroke-width="1.2" />
<line x1="188.42400000000004" y1="174.8" x2="188.42400000000004" y2="178.3" stroke="#505050" stroke-width="1.2" />
<line x1="195.008" y1="174.8" x2="195.008" y2="178.3" stroke="#505050" stroke-width="1.2" />
<line x1="201.592" y1="174.8" x2="201.592" y2="178.3" stroke="#505050" stroke-width="1.2" />
<line x1="208.17600000000002" y1="174.8" x2="208.17600000000002" y2="178.3" stroke="#505050" stroke-width="1.2" />
<line x1="214.76000000000002" y1="174.8" x2="214.76000000000002" y2="179.8" stroke="#505050" stroke-width="1.2" />
<line x1="221.344" y1="174.8" x2="221.344" y2="178.3" stroke="#505050" stroke-width="1.2" />
<line x1="227.928" y1="174.8" x2="227.928" y2="178.3" stroke="#505050" stroke-width="1.2" />
<line x1="234.512" y1="174.8" x2="234.512" y2="178.3" stroke="#505050" stroke-width="1.2" />
<line x1="241.096" y1="174.8" x2="241.096" y2="178.3" stroke="#505050" stroke-width="1.2" />
<line x1="247.68000000000004" y1="174.8" x2="247.68000000000004" y2="179.8" stroke="#505050" stroke-width="1.2" />
<line x1="254.26400000000004" y1="174.8" x2="254.26400000000004" y2="178.3" stroke="#505050" stroke-width="1.2" />
<line x1="260.84800000000007" y1="174.8" x2="260.84800000000007" y2="178.3" stroke="#505050" stroke-width="1.2" />
<line x1="267.432" y1="174.8" x2="267.432" y2="178.3" stroke="#505050" stroke-width="1.2" />
<line x1="274.016" y1="174.8" x2="274.016" y2="178.3" stroke="#505050" stroke-width="1.2" />
<line x1="280.6" y1="174.8" x2="280.6" y2="179.8" stroke="#505050" stroke-width="1.2" />
<line x1="287.184" y1="174.8" x2="287.184" y2="178.3" stroke="#505050" stroke-width="1.2" />
<text x="203.3" y="206" font-size="12" font-weight="normal" text-anchor="middle" fill="#000" stroke="#000" stroke-width="0.3">FSC (x 1000)</text>
<g transform="translate(80.8,100.6) rotate(-90)">
<text x="0" y="0" font-size="12" font-weight="normal" text-anchor="middle" fill="#000" stroke="#000" stroke-width="0.3">SSC (x 1000)</text>
</g>
<rect x="119.7" y="216.9" width="171.40000000000003" height="159.49999999999997" fill="none" stroke="#505050" stroke-width="1.8"/>
<text x="110.8" y="229.10000000000002" font-size="12" font-weight="normal" text-anchor="end" fill="#000" stroke="#000" stroke-width="0.3">250</text>
<line x1="115.2" y1="224.8" x2="119.7" y2="224.8" stroke="#505050" stroke-width="1.2" />
<text x="110.8" y="259.8" font-size="12" font-weight="normal" text-anchor="end" fill="#000" stroke="#000" stroke-width="0.3">200</text>
<line x1="115.2" y1="255.5" x2="119.7" y2="255.5" stroke="#505050" stroke-width="1.2" />
<text x="110.8" y="291.3" font-size="12" font-weight="normal" text-anchor="end" fill="#000" stroke="#000" stroke-width="0.3">150</text>
<line x1="115.2" y1="287" x2="119.7" y2="287" stroke="#505050" stroke-width="1.2" />
<text x="110.8" y="322.7" font-size="12" font-weight="normal" text-anchor="end" fill="#000" stroke="#000" stroke-width="0.3">100</text>
<line x1="115.2" y1="318.4" x2="119.7" y2="318.4" stroke="#505050" stroke-width="1.2" />
<text x="110.8" y="352.5" font-size="12" font-weight="normal" text-anchor="end" fill="#000" stroke="#000" stroke-width="0.3">50</text>
<line x1="115.2" y1="348.2" x2="119.7" y2="348.2" stroke="#505050" stroke-width="1.2" />
<text x="110.8" y="380.7" font-size="12" font-weight="normal" text-anchor="end" fill="#000" stroke="#000" stroke-width="0.3">0</text>
<line x1="115.2" y1="376.4" x2="119.7" y2="376.4" stroke="#505050" stroke-width="1.2" />
<line x1="117.2" y1="370.76" x2="119.7" y2="370.76" stroke="#505050" stroke-width="1.2" />
<line x1="117.2" y1="365.12" x2="119.7" y2="365.12" stroke="#505050" stroke-width="1.2" />
<line x1="117.2" y1="359.47999999999996" x2="119.7" y2="359.47999999999996" stroke="#505050" stroke-width="1.2" />
<line x1="117.2" y1="353.84" x2="119.7" y2="353.84" stroke="#505050" stroke-width="1.2" />
<line x1="117.2" y1="342.24" x2="119.7" y2="342.24" stroke="#505050" stroke-width="1.2" />
<line x1="117.2" y1="336.28" x2="119.7" y2="336.28" stroke="#505050" stroke-width="1.2" />
<line x1="117.2" y1="330.32" x2="119.7" y2="330.32" stroke="#505050" stroke-width="1.2" />
<line x1="117.2" y1="324.35999999999996" x2="119.7" y2="324.35999999999996" stroke="#505050" stroke-width="1.2" />
<line x1="117.2" y1="312.12" x2="119.7" y2="312.12" stroke="#505050" stroke-width="1.2" />
<line x1="117.2" y1="305.84" x2="119.7" y2="305.84" stroke="#505050" stroke-width="1.2" />
<line x1="117.2" y1="299.56" x2="119.7" y2="299.56" stroke="#505050" stroke-width="1.2" />
<line x1="117.2" y1="293.28" x2="119.7" y2="293.28" stroke="#505050" stroke-width="1.2" />
<line x1="117.2" y1="280.7" x2="119.7" y2="280.7" stroke="#505050" stroke-width="1.2" />
<line x1="117.2" y1="274.4" x2="119.7" y2="274.4" stroke="#505050" stroke-width="1.2" />
<line x1="117.2" y1="268.1" x2="119.7" y2="268.1" stroke="#505050" stroke-width="1.2" />
<line x1="117.2" y1="261.8" x2="119.7" y2="261.8" stroke="#505050" stroke-width="1.2" />
<line x1="117.2" y1="249.36" x2="119.7" y2="249.36" stroke="#505050" stroke-width="1.2" />
<line x1="117.2" y1="243.22" x2="119.7" y2="243.22" stroke="#505050" stroke-width="1.2" />
<line x1="117.2" y1="237.08" x2="119.7" y2="237.08" stroke="#505050" stroke-width="1.2" />
<line x1="117.2" y1="230.94" x2="119.7" y2="230.94" stroke="#505050" stroke-width="1.2" />
<g transform="translate(80.8,304.5) rotate(-90)">
<text x="0" y="0" font-size="12" font-weight="normal" text-anchor="middle" fill="#000" stroke="#000" stroke-width="0.3">SSC (x 1000)</text>
</g>
<text x="135.9" y="394" font-size="12.6" fill="#000" stroke="#000" stroke-width="0.3">10<tspan dy="-4.6" font-size="8.6">2</tspan></text>
<text x="178.7" y="394" font-size="12.6" fill="#000" stroke="#000" stroke-width="0.3">10<tspan dy="-4.6" font-size="8.6">3</tspan></text>
<text x="221.3" y="394" font-size="12.6" fill="#000" stroke="#000" stroke-width="0.3">10<tspan dy="-4.6" font-size="8.6">4</tspan></text>
<text x="263.3" y="394" font-size="12.6" fill="#000" stroke="#000" stroke-width="0.3">10<tspan dy="-4.6" font-size="8.6">5</tspan></text>
<line x1="122.295082617095" y1="376.4" x2="122.295082617095" y2="379.4" stroke="#505050" stroke-width="1.2" />
<line x1="127.60081429839414" y1="376.4" x2="127.60081429839414" y2="379.4" stroke="#505050" stroke-width="1.2" />
<line x1="131.7162595174696" y1="376.4" x2="131.7162595174696" y2="379.4" stroke="#505050" stroke-width="1.2" />
<line x1="135.0788230996254" y1="376.4" x2="135.0788230996254" y2="379.4" stroke="#505050" stroke-width="1.2" />
<line x1="137.9218300992721" y1="376.4" x2="137.9218300992721" y2="379.4" stroke="#505050" stroke-width="1.2" />
<line x1="140.38455478092453" y1="376.4" x2="140.38455478092453" y2="379.4" stroke="#505050" stroke-width="1.2" />
<line x1="142.55683190085665" y1="376.4" x2="142.55683190085665" y2="379.4" stroke="#505050" stroke-width="1.2" />
<line x1="144.5" y1="376.4" x2="144.5" y2="381.4" stroke="#505050" stroke-width="1.2" />
<line x1="157.2837404825304" y1="376.4" x2="157.2837404825304" y2="379.4" stroke="#505050" stroke-width="1.2" />
<line x1="164.76174928376167" y1="376.4" x2="164.76174928376167" y2="379.4" stroke="#505050" stroke-width="1.2" />
<line x1="170.0674809650608" y1="376.4" x2="170.0674809650608" y2="379.4" stroke="#505050" stroke-width="1.2" />
<line x1="174.18292618413625" y1="376.4" x2="174.18292618413625" y2="379.4" stroke="#505050" stroke-width="1.2" />
<line x1="177.54548976629206" y1="376.4" x2="177.54548976629206" y2="379.4" stroke="#505050" stroke-width="1.2" />
<line x1="180.38849676593878" y1="376.4" x2="180.38849676593878" y2="379.4" stroke="#505050" stroke-width="1.2" />
<line x1="182.8512214475912" y1="376.4" x2="182.8512214475912" y2="379.4" stroke="#505050" stroke-width="1.2" />
<line x1="185.02349856752332" y1="376.4" x2="185.02349856752332" y2="379.4" stroke="#505050" stroke-width="1.2" />
<line x1="186.96666666666667" y1="376.4" x2="186.96666666666667" y2="381.4" stroke="#505050" stroke-width="1.2" />
<line x1="199.75040714919706" y1="376.4" x2="199.75040714919706" y2="379.4" stroke="#505050" stroke-width="1.2" />
<line x1="207.2284159504283" y1="376.4" x2="207.2284159504283" y2="379.4" stroke="#505050" stroke-width="1.2" />
<line x1="212.53414763172748" y1="376.4" x2="212.53414763172748" y2="379.4" stroke="#505050" stroke-width="1.2" />
<line x1="216.64959285080292" y1="376.4" x2="216.64959285080292" y2="379.4" stroke="#505050" stroke-width="1.2" />
<line x1="220.0121564329587" y1="376.4" x2="220.0121564329587" y2="379.4" stroke="#505050" stroke-width="1.2" />
<line x1="222.85516343260542" y1="376.4" x2="222.85516343260542" y2="379.4" stroke="#505050" stroke-width="1.2" />
<line x1="225.31788811425787" y1="376.4" x2="225.31788811425787" y2="379.4" stroke="#505050" stroke-width="1.2" />
<line x1="227.49016523419" y1="376.4" x2="227.49016523419" y2="379.4" stroke="#505050" stroke-width="1.2" />
<line x1="229.43333333333334" y1="376.4" x2="229.43333333333334" y2="381.4" stroke="#505050" stroke-width="1.2" />
<line x1="242.21707381586373" y1="376.4" x2="242.21707381586373" y2="379.4" stroke="#505050" stroke-width="1.2" />
<line x1="249.695082617095" y1="376.4" x2="249.695082617095" y2="379.4" stroke="#505050" stroke-width="1.2" />
<line x1="255.00081429839412" y1="376.4" x2="255.00081429839412" y2="379.4" stroke="#505050" stroke-width="1.2" />
<line x1="259.1162595174696" y1="376.4" x2="259.1162595174696" y2="379.4" stroke="#505050" stroke-width="1.2" />
<line x1="262.4788230996254" y1="376.4" x2="262.4788230996254" y2="379.4" stroke="#505050" stroke-width="1.2" />
<line x1="265.3218300992721" y1="376.4" x2="265.3218300992721" y2="379.4" stroke="#505050" stroke-width="1.2" />
<line x1="267.7845547809245" y1="376.4" x2="267.7845547809245" y2="379.4" stroke="#505050" stroke-width="1.2" />
<line x1="269.9568319008566" y1="376.4" x2="269.9568319008566" y2="379.4" stroke="#505050" stroke-width="1.2" />
<line x1="271.9" y1="376.4" x2="271.9" y2="381.4" stroke="#505050" stroke-width="1.2" />
<line x1="284.6837404825304" y1="376.4" x2="284.6837404825304" y2="379.4" stroke="#505050" stroke-width="1.2" />
<text x="204.4" y="408.5" font-size="12" font-weight="normal" text-anchor="middle" fill="#000" stroke="#000" stroke-width="0.3">GFP</text>
<text x="365.8" y="27.8" font-size="26.5" font-weight="bold" text-anchor="start" fill="#000" textLength="15.5" lengthAdjust="spacingAndGlyphs" stroke="#000" stroke-width="0.5">B</text>
<line x1="490.5" y1="62.64999999999999" x2="490.5" y2="352.0" stroke="#000" stroke-width="2.6" />
<line x1="480" y1="350.7" x2="490.5" y2="350.7" stroke="#000" stroke-width="2.6" />
<text x="475.8" y="358.3" font-size="20.6" font-weight="bold" text-anchor="end" fill="#000" stroke="#000" stroke-width="0.5">0.00</text>
<line x1="480" y1="293.34999999999997" x2="490.5" y2="293.34999999999997" stroke="#000" stroke-width="2.6" />
<text x="475.8" y="300.95" font-size="20.6" font-weight="bold" text-anchor="end" fill="#000" stroke="#000" stroke-width="0.5">0.05</text>
<line x1="480" y1="236.0" x2="490.5" y2="236.0" stroke="#000" stroke-width="2.6" />
<text x="475.8" y="243.6" font-size="20.6" font-weight="bold" text-anchor="end" fill="#000" stroke="#000" stroke-width="0.5">0.10</text>
<line x1="480" y1="178.64999999999998" x2="490.5" y2="178.64999999999998" stroke="#000" stroke-width="2.6" />
<text x="475.8" y="186.24999999999997" font-size="20.6" font-weight="bold" text-anchor="end" fill="#000" stroke="#000" stroke-width="0.5">0.15</text>
<line x1="480" y1="121.29999999999998" x2="490.5" y2="121.29999999999998" stroke="#000" stroke-width="2.6" />
<text x="475.8" y="128.89999999999998" font-size="20.6" font-weight="bold" text-anchor="end" fill="#000" stroke="#000" stroke-width="0.5">0.20</text>
<line x1="480" y1="63.94999999999999" x2="490.5" y2="63.94999999999999" stroke="#000" stroke-width="2.6" />
<text x="475.8" y="71.54999999999998" font-size="20.6" font-weight="bold" text-anchor="end" fill="#000" stroke="#000" stroke-width="0.5">0.25</text>
<line x1="480" y1="350.7" x2="664" y2="350.7" stroke="#000" stroke-width="2.6" />
<line x1="540" y1="350.7" x2="540" y2="362.5" stroke="#000" stroke-width="2.6" />
<line x1="614.3" y1="350.7" x2="614.3" y2="362.5" stroke="#000" stroke-width="2.6" />
<text x="540" y="387" font-size="19.3" font-weight="bold" text-anchor="middle" fill="#000" stroke="#000" stroke-width="0.5">GFP-</text>
<text x="613.8" y="387" font-size="19.3" font-weight="bold" text-anchor="middle" fill="#000" stroke="#000" stroke-width="0.5">GFP+</text>
<line x1="515.8" y1="250.8" x2="564.6" y2="250.8" stroke="#000" stroke-width="2.6" />
<line x1="590" y1="84.8" x2="639.5" y2="84.8" stroke="#000" stroke-width="2.6" />
<circle cx="540.1" cy="219.3" r="4.1" fill="#000"/>
<circle cx="532.1" cy="253.7" r="4.1" fill="#000"/>
<circle cx="547.7" cy="250.8" r="4.1" fill="#000"/>
<circle cx="606.7" cy="81.8" r="4.1" fill="#000"/>
<circle cx="622.2" cy="84.8" r="4.1" fill="#000"/>
<circle cx="614.5" cy="121.5" r="4.1" fill="#000"/>
<path d="M546 51 V29 H612.8 V51" fill="none" stroke="#000" stroke-width="2"/>
<path d="M574.3 11.5V20.1M570.56 13.65L578.04 17.95M570.56 17.95L578.04 13.65" stroke="#000" stroke-width="2.1" stroke-linecap="round"/>
<path d="M587.3 11.5V20.1M583.56 13.65L591.04 17.95M583.56 17.95L591.04 13.65" stroke="#000" stroke-width="2.1" stroke-linecap="round"/>
<g transform="translate(379.6,341.3) rotate(-90)">
<text x="0" y="0" font-size="20.8" textLength="258" lengthAdjust="spacingAndGlyphs" stroke="#000" stroke-width="0.3">Normalized <tspan font-style="italic">cdh5</tspan> expression</text>
</g>
<g transform="translate(407.5,208) rotate(-90)">
<text x="0" y="0" font-size="21.8" text-anchor="middle" stroke="#000" stroke-width="0.3">(1/dCt)</text>
</g>
<text x="2.3" y="482.3" font-size="27.5" font-weight="bold" text-anchor="start" fill="#000" textLength="15.8" lengthAdjust="spacingAndGlyphs" stroke="#000" stroke-width="0.5">C</text>
<line x1="157" y1="464.20000000000005" x2="157" y2="819.2" stroke="#000" stroke-width="3" />
<line x1="142" y1="817.7" x2="157" y2="817.7" stroke="#000" stroke-width="3" />
<text x="136" y="827.6" font-size="27.2" font-weight="bold" text-anchor="end" fill="#000" stroke="#000" stroke-width="0.8">0.0</text>
<line x1="142" y1="729.7" x2="157" y2="729.7" stroke="#000" stroke-width="3" />
<text x="136" y="739.6" font-size="27.2" font-weight="bold" text-anchor="end" fill="#000" stroke="#000" stroke-width="0.8">0.5</text>
<line x1="142" y1="641.7" x2="157" y2="641.7" stroke="#000" stroke-width="3" />
<text x="136" y="651.6" font-size="27.2" font-weight="bold" text-anchor="end" fill="#000" stroke="#000" stroke-width="0.8">1.0</text>
<line x1="142" y1="553.7" x2="157" y2="553.7" stroke="#000" stroke-width="3" />
<text x="136" y="563.6" font-size="27.2" font-weight="bold" text-anchor="end" fill="#000" stroke="#000" stroke-width="0.8">1.5</text>
<line x1="142" y1="465.70000000000005" x2="157" y2="465.70000000000005" stroke="#000" stroke-width="3" />
<text x="136" y="475.6" font-size="27.2" font-weight="bold" text-anchor="end" fill="#000" stroke="#000" stroke-width="0.8">2.0</text>
<line x1="142" y1="817.7" x2="685" y2="817.7" stroke="#000" stroke-width="3" />
<line x1="175.9" y1="817.7" x2="175.9" y2="832.7" stroke="#000" stroke-width="3" />
<line x1="175.9" y1="804.148" x2="175.9" y2="801.6840000000001" stroke="#000" stroke-width="1.7" />
<line x1="170.6" y1="801.6840000000001" x2="181.20000000000002" y2="801.6840000000001" stroke="#000" stroke-width="2.1" />
<rect x="168.00" y="804.15" width="15.8" height="13.55" fill="#c8c8c8" stroke="#000" stroke-width="3"/>
<rect x="170.70" y="797.19" width="10.4" height="10.4" fill="#000"/>
<rect x="174.70" y="798.07" width="10.4" height="10.4" fill="#000"/>
<rect x="166.70" y="802.29" width="10.4" height="10.4" fill="#000"/>
<text transform="translate(181.7,855) rotate(-45)" font-size="26" text-anchor="end" stroke="#000" stroke-width="0.25">wnk1a</text>
<line x1="213.58" y1="817.7" x2="213.58" y2="832.7" stroke="#000" stroke-width="3" />
<line x1="213.58" y1="803.268" x2="213.58" y2="777.3960000000001" stroke="#000" stroke-width="1.7" />
<line x1="208.28" y1="777.3960000000001" x2="218.88000000000002" y2="777.3960000000001" stroke="#000" stroke-width="2.1" />
<rect x="205.68" y="803.27" width="15.8" height="14.43" fill="#c8c8c8" stroke="#000" stroke-width="3"/>
<rect x="208.38" y="768.68" width="10.4" height="10.4" fill="#000"/>
<rect x="208.38" y="810.39" width="10.4" height="10.4" fill="#000"/>
<rect x="208.38" y="812.50" width="10.4" height="10.4" fill="#000"/>
<text transform="translate(219.4,855) rotate(-45)" font-size="26" text-anchor="end" stroke="#000" stroke-width="0.25">trpm7</text>
<line x1="251.26" y1="817.7" x2="251.26" y2="832.7" stroke="#000" stroke-width="3" />
<rect x="243.36" y="817.70" width="15.8" height="0.00" fill="#c8c8c8" stroke="#000" stroke-width="3"/>
<rect x="241.66" y="811.09" width="10.4" height="10.4" fill="#000"/>
<rect x="246.06" y="811.09" width="10.4" height="10.4" fill="#000"/>
<rect x="250.46" y="811.09" width="10.4" height="10.4" fill="#000"/>
<text transform="translate(257.1,855) rotate(-45)" font-size="26" text-anchor="end" stroke="#000" stroke-width="0.25">tnfsf10</text>
<line x1="288.94" y1="817.7" x2="288.94" y2="832.7" stroke="#000" stroke-width="3" />
<rect x="281.04" y="817.70" width="15.8" height="0.00" fill="#c8c8c8" stroke="#000" stroke-width="3"/>
<rect x="283.74" y="809.33" width="10.4" height="10.4" fill="#000"/>
<rect x="279.54" y="812.15" width="10.4" height="10.4" fill="#000"/>
<rect x="287.94" y="812.15" width="10.4" height="10.4" fill="#000"/>
<text transform="translate(294.7,855) rotate(-45)" font-size="26" text-anchor="end" stroke="#000" stroke-width="0.25">thbs4a</text>
<line x1="326.62" y1="817.7" x2="326.62" y2="832.7" stroke="#000" stroke-width="3" />
<rect x="318.72" y="817.70" width="15.8" height="0.00" fill="#c8c8c8" stroke="#000" stroke-width="3"/>
<rect x="317.22" y="812.50" width="10.4" height="10.4" fill="#000"/>
<rect x="321.42" y="812.50" width="10.4" height="10.4" fill="#000"/>
<rect x="325.62" y="812.50" width="10.4" height="10.4" fill="#000"/>
<text transform="translate(332.4,855) rotate(-45)" font-size="26" text-anchor="end" stroke="#000" stroke-width="0.25">thbs4b</text>
<line x1="364.3" y1="817.7" x2="364.3" y2="832.7" stroke="#000" stroke-width="3" />
<rect x="356.40" y="817.70" width="15.8" height="0.00" fill="#c8c8c8" stroke="#000" stroke-width="3"/>
<rect x="354.90" y="812.50" width="10.4" height="10.4" fill="#000"/>
<rect x="359.10" y="812.50" width="10.4" height="10.4" fill="#000"/>
<rect x="363.30" y="812.50" width="10.4" height="10.4" fill="#000"/>
<text transform="translate(370.1,855) rotate(-45)" font-size="26" text-anchor="end" stroke="#000" stroke-width="0.25">serpinc1</text>
<line x1="401.98" y1="817.7" x2="401.98" y2="832.7" stroke="#000" stroke-width="3" />
<line x1="401.98" y1="790.4200000000001" x2="401.98" y2="748.356" stroke="#000" stroke-width="1.7" />
<line x1="396.68" y1="748.356" x2="407.28000000000003" y2="748.356" stroke="#000" stroke-width="2.1" />
<rect x="394.08" y="790.42" width="15.8" height="27.28" fill="#c8c8c8" stroke="#000" stroke-width="3"/>
<rect x="396.78" y="737.17" width="10.4" height="10.4" fill="#000"/>
<rect x="399.28" y="805.46" width="10.4" height="10.4" fill="#000"/>
<rect x="393.78" y="807.04" width="10.4" height="10.4" fill="#000"/>
<text transform="translate(407.8,855) rotate(-45)" font-size="26" text-anchor="end" stroke="#000" stroke-width="0.25">sema6a</text>
<line x1="439.65999999999997" y1="817.7" x2="439.65999999999997" y2="832.7" stroke="#000" stroke-width="3" />
<rect x="431.76" y="817.70" width="15.8" height="0.00" fill="#c8c8c8" stroke="#000" stroke-width="3"/>
<rect x="434.46" y="807.57" width="10.4" height="10.4" fill="#000"/>
<rect x="430.26" y="812.50" width="10.4" height="10.4" fill="#000"/>
<rect x="438.66" y="812.50" width="10.4" height="10.4" fill="#000"/>
<text transform="translate(445.5,855) rotate(-45)" font-size="26" text-anchor="end" stroke="#000" stroke-width="0.25">kng1</text>
<line x1="477.34000000000003" y1="817.7" x2="477.34000000000003" y2="832.7" stroke="#000" stroke-width="3" />
<line x1="477.34000000000003" y1="740.436" x2="477.34000000000003" y2="601.22" stroke="#000" stroke-width="1.7" />
<line x1="472.04" y1="601.22" x2="482.64000000000004" y2="601.22" stroke="#000" stroke-width="2.1" />
<rect x="469.44" y="740.44" width="15.8" height="77.26" fill="#c8c8c8" stroke="#000" stroke-width="3"/>
<rect x="472.14" y="575.25" width="10.4" height="10.4" fill="#000"/>
<rect x="467.94" y="812.50" width="10.4" height="10.4" fill="#000"/>
<rect x="476.34" y="812.50" width="10.4" height="10.4" fill="#000"/>
<text transform="translate(483.1,855) rotate(-45)" font-size="26" text-anchor="end" stroke="#000" stroke-width="0.25">igf1</text>
<line x1="515.02" y1="817.7" x2="515.02" y2="832.7" stroke="#000" stroke-width="3" />
<line x1="515.02" y1="797.46" x2="515.02" y2="779.86" stroke="#000" stroke-width="1.7" />
<line x1="509.71999999999997" y1="779.86" x2="520.3199999999999" y2="779.86" stroke="#000" stroke-width="2.1" />
<rect x="507.12" y="797.46" width="15.8" height="20.24" fill="#c8c8c8" stroke="#000" stroke-width="3"/>
<rect x="509.82" y="772.37" width="10.4" height="10.4" fill="#000"/>
<rect x="510.82" y="801.76" width="10.4" height="10.4" fill="#000"/>
<rect x="506.82" y="806.87" width="10.4" height="10.4" fill="#000"/>
<text transform="translate(520.8,855) rotate(-45)" font-size="26" text-anchor="end" stroke="#000" stroke-width="0.25">gsk3b</text>
<line x1="552.7" y1="817.7" x2="552.7" y2="832.7" stroke="#000" stroke-width="3" />
<line x1="552.7" y1="724.9480000000001" x2="552.7" y2="567.4280000000001" stroke="#000" stroke-width="1.7" />
<line x1="547.4000000000001" y1="567.4280000000001" x2="558.0" y2="567.4280000000001" stroke="#000" stroke-width="2.1" />
<rect x="544.80" y="724.95" width="15.8" height="92.75" fill="#c8c8c8" stroke="#000" stroke-width="3"/>
<rect x="547.50" y="538.29" width="10.4" height="10.4" fill="#000"/>
<rect x="550.00" y="807.75" width="10.4" height="10.4" fill="#000"/>
<rect x="544.50" y="809.16" width="10.4" height="10.4" fill="#000"/>
<text transform="translate(558.5,855) rotate(-45)" font-size="26" text-anchor="end" stroke="#000" stroke-width="0.25">fzd5</text>
<line x1="590.38" y1="817.7" x2="590.38" y2="832.7" stroke="#000" stroke-width="3" />
<line x1="590.38" y1="736.5640000000001" x2="590.38" y2="590.308" stroke="#000" stroke-width="1.7" />
<line x1="585.08" y1="590.308" x2="595.68" y2="590.308" stroke="#000" stroke-width="2.1" />
<rect x="582.48" y="736.56" width="15.8" height="81.14" fill="#c8c8c8" stroke="#000" stroke-width="3"/>
<rect x="585.18" y="563.28" width="10.4" height="10.4" fill="#000"/>
<rect x="580.98" y="812.50" width="10.4" height="10.4" fill="#000"/>
<rect x="589.38" y="812.50" width="10.4" height="10.4" fill="#000"/>
<text transform="translate(596.2,855) rotate(-45)" font-size="26" text-anchor="end" stroke="#000" stroke-width="0.25">bmp2a</text>
<line x1="628.06" y1="817.7" x2="628.06" y2="832.7" stroke="#000" stroke-width="3" />
<rect x="620.16" y="817.70" width="15.8" height="0.00" fill="#c8c8c8" stroke="#000" stroke-width="3"/>
<rect x="618.66" y="812.50" width="10.4" height="10.4" fill="#000"/>
<rect x="622.86" y="812.50" width="10.4" height="10.4" fill="#000"/>
<rect x="627.06" y="812.50" width="10.4" height="10.4" fill="#000"/>
<text transform="translate(633.9,855) rotate(-45)" font-size="26" text-anchor="end" stroke="#000" stroke-width="0.25">bmp2b</text>
<line x1="665.74" y1="817.7" x2="665.74" y2="832.7" stroke="#000" stroke-width="3" />
<line x1="665.74" y1="793.5880000000001" x2="665.74" y2="772.644" stroke="#000" stroke-width="1.7" />
<line x1="660.44" y1="772.644" x2="671.04" y2="772.644" stroke="#000" stroke-width="2.1" />
<rect x="657.84" y="793.59" width="15.8" height="24.11" fill="#c8c8c8" stroke="#000" stroke-width="3"/>
<rect x="656.74" y="773.96" width="10.4" height="10.4" fill="#000"/>
<rect x="664.84" y="777.30" width="10.4" height="10.4" fill="#000"/>
<rect x="660.84" y="809.51" width="10.4" height="10.4" fill="#000"/>
<text transform="translate(671.5,855) rotate(-45)" font-size="26" text-anchor="end" stroke="#000" stroke-width="0.25">angptl4</text>
<g transform="translate(73.4,793.8) rotate(-90)">
<text x="0" y="0" font-size="21" textLength="300" lengthAdjust="spacingAndGlyphs" stroke="#000" stroke-width="0.3">Gene expression relative to <tspan font-style="italic">actin</tspan></text>
</g>
</g>
</svg>
</body></html>
